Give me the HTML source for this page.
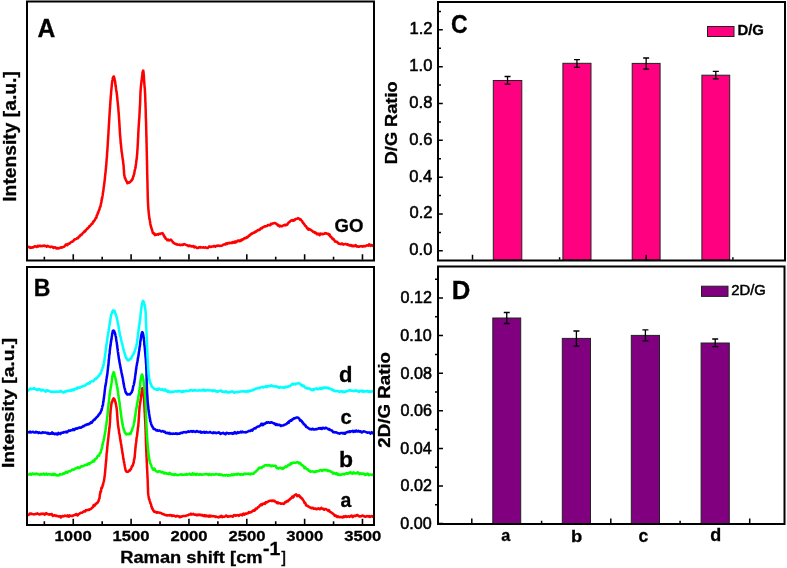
<!DOCTYPE html>
<html><head><meta charset="utf-8"><style>
html,body{margin:0;padding:0;background:#fff;}
svg{display:block;will-change:transform;}
text{font-family:"Liberation Sans", sans-serif;fill:#000;}
</style></head><body>
<svg width="787" height="568" viewBox="0 0 787 568">
<defs><clipPath id="cpA"><rect x="28" y="3" width="345" height="256"/></clipPath><clipPath id="cpB"><rect x="28" y="268" width="345" height="256"/></clipPath></defs>
<path d="M27.4,246.9 27.8,247.1 28.2,246.9 28.6,246.8 28.9,246.9 29.3,247.0 29.7,247.5 30.1,247.9 30.5,247.5 30.9,247.3 31.3,247.7 31.7,247.8 32.1,247.5 32.5,247.2 32.9,247.4 33.3,247.5 33.7,247.0 34.1,246.7 34.5,246.4 34.9,246.2 35.3,246.3 35.7,246.5 36.1,246.6 36.5,246.9 36.9,246.9 37.3,246.3 37.7,245.8 38.1,246.0 38.4,246.5 38.8,246.3 39.2,245.8 39.6,245.8 40.0,245.7 40.4,245.9 40.8,246.2 41.2,246.0 41.6,246.0 42.0,246.2 42.4,245.9 42.8,245.8 43.2,245.9 43.6,245.7 44.0,245.5 44.4,245.9 44.8,246.1 45.2,245.8 45.6,246.0 46.0,246.0 46.4,246.1 46.8,246.7 47.2,246.5 47.6,245.9 48.0,246.1 48.4,246.4 48.8,246.5 49.2,246.6 49.5,246.7 49.9,247.0 50.3,247.2 50.7,246.8 51.1,246.8 51.5,246.9 51.9,246.8 52.3,246.7 52.6,246.9 53.0,247.4 53.4,247.9 53.8,247.9 54.2,247.3 54.6,247.4 55.0,247.6 55.4,247.3 55.8,247.5 56.2,248.1 56.6,248.6 57.0,248.5 57.4,248.1 57.8,247.9 58.2,248.3 58.6,248.5 59.0,248.1 59.4,247.9 59.7,248.0 60.1,247.9 60.5,247.5 60.9,247.3 61.3,247.3 61.7,247.5 62.0,247.7 62.4,247.5 62.8,247.2 63.2,247.0 63.5,246.8 63.9,246.8 64.2,246.6 64.6,246.1 64.9,245.7 65.3,245.4 65.6,244.7 66.0,244.4 66.3,244.6 66.7,244.6 67.0,245.0 67.4,245.2 67.7,244.3 68.1,243.8 68.4,244.0 68.8,243.9 69.1,243.5 69.5,243.4 69.8,243.4 70.1,243.0 70.5,242.5 70.8,242.3 71.2,242.1 71.5,241.8 71.9,241.7 72.2,241.6 72.5,241.7 72.9,241.5 73.2,241.0 73.6,240.7 73.9,240.2 74.2,239.6 74.6,239.6 74.9,239.5 75.2,239.2 75.5,239.1 75.9,239.0 76.2,238.9 76.5,238.8 76.8,238.7 77.1,238.2 77.5,237.8 77.8,238.2 78.1,238.2 78.4,237.5 78.7,236.9 79.0,236.5 79.3,236.4 79.6,236.4 79.9,236.0 80.2,235.5 80.5,235.1 80.8,234.7 81.1,234.6 81.4,234.9 81.7,234.7 82.0,234.4 82.3,233.9 82.6,233.3 82.9,233.0 83.2,232.8 83.5,232.6 83.8,232.3 84.0,231.8 84.3,231.3 84.6,231.4 84.9,231.7 85.2,231.0 85.5,230.4 85.7,230.7 86.0,230.5 86.3,229.7 86.6,229.3 86.9,228.9 87.1,228.5 87.4,228.8 87.7,228.6 88.0,228.1 88.2,227.8 88.5,227.6 88.8,227.2 89.0,226.7 89.3,226.2 89.6,226.1 89.8,226.3 90.1,225.9 90.4,225.6 90.6,225.2 90.9,224.7 91.1,224.5 91.4,224.4 91.6,224.0 91.9,223.6 92.1,223.5 92.4,223.6 92.6,223.2 92.9,222.6 93.1,221.7 93.3,221.4 93.6,221.7 93.8,221.6 94.0,221.0 94.2,220.7 94.5,220.6 94.7,220.3 94.9,219.8 95.1,219.3 95.3,219.0 95.5,218.4 95.7,218.2 95.9,218.2 96.1,218.0 96.3,218.0 96.5,217.3 96.6,215.9 96.8,215.3 97.0,215.4 97.2,215.0 97.3,214.8 97.5,214.5 97.7,213.4 97.8,212.8 98.0,213.1 98.1,213.0 98.3,212.6 98.4,212.1 98.6,211.4 98.7,210.9 98.8,210.7 99.0,210.2 99.1,209.8 99.2,209.9 99.4,209.8 99.5,209.2 99.6,208.5 99.7,208.0 99.8,207.5 100.0,207.3 100.1,207.1 100.2,206.8 100.3,206.6 100.4,206.7 100.5,206.3 100.6,205.4 100.7,205.1 100.8,204.8 100.9,204.0 101.0,203.3 101.1,203.2 101.2,203.2 101.2,202.8 101.3,202.3 101.4,202.0 101.5,201.8 101.6,201.0 101.7,199.9 101.7,199.4 101.8,198.7 101.9,198.1 102.0,198.7 102.0,199.1 102.1,198.4 102.2,197.5 102.2,197.3 102.3,197.4 102.4,197.0 102.4,196.4 102.5,196.0 102.6,195.8 102.6,195.6 102.7,195.2 102.8,194.4 102.8,193.8 102.9,193.5 102.9,193.3 103.0,192.9 103.1,192.2 103.1,191.8 103.2,191.4 103.2,191.1 103.3,191.5 103.3,191.2 103.4,190.3 103.5,189.9 103.5,189.1 103.6,188.1 103.6,188.1 103.7,188.1 103.7,187.5 103.8,186.9 103.8,186.6 103.9,186.6 103.9,186.5 104.0,186.0 104.0,185.6 104.1,185.3 104.1,184.5 104.2,183.6 104.2,183.3 104.3,183.7 104.3,183.7 104.4,183.1 104.4,182.5 104.5,181.9 104.5,181.4 104.6,180.9 104.6,180.5 104.7,180.4 104.7,180.4 104.8,179.8 104.8,178.9 104.9,178.3 104.9,178.1 104.9,178.3 105.0,177.8 105.0,177.0 105.1,176.3 105.1,175.8 105.2,175.7 105.2,175.6 105.2,175.0 105.3,174.4 105.3,174.1 105.4,173.5 105.4,172.9 105.5,172.5 105.5,172.4 105.5,172.2 105.6,171.8 105.6,171.7 105.7,171.6 105.7,170.7 105.7,170.0 105.8,169.8 105.8,169.3 105.8,168.8 105.9,168.9 105.9,168.9 106.0,168.0 106.0,167.2 106.0,166.7 106.1,166.4 106.1,165.7 106.1,165.5 106.2,165.5 106.2,165.1 106.2,165.1 106.3,165.0 106.3,164.3 106.3,164.0 106.4,163.7 106.4,162.8 106.4,161.8 106.5,161.3 106.5,161.5 106.5,161.7 106.6,161.1 106.6,160.0 106.6,159.3 106.7,159.2 106.7,159.0 106.7,158.7 106.8,158.3 106.8,157.9 106.8,157.4 106.9,157.0 106.9,156.7 106.9,156.4 106.9,156.3 107.0,156.3 107.0,155.6 107.0,154.5 107.1,153.8 107.1,153.4 107.1,152.7 107.2,152.4 107.2,152.8 107.2,152.6 107.2,151.7 107.3,150.8 107.3,150.6 107.3,150.5 107.3,150.7 107.4,150.8 107.4,149.8 107.4,148.7 107.5,148.2 107.5,148.1 107.5,147.6 107.5,147.1 107.6,146.8 107.6,146.5 107.6,146.6 107.6,146.6 107.7,145.9 107.7,145.2 107.7,144.8 107.7,144.3 107.8,143.7 107.8,143.1 107.8,142.4 107.8,142.2 107.9,142.3 107.9,142.0 107.9,141.7 107.9,141.2 108.0,140.2 108.0,139.8 108.0,139.9 108.0,139.6 108.1,139.2 108.1,139.0 108.1,138.3 108.1,137.4 108.2,137.1 108.2,137.3 108.2,136.7 108.2,136.0 108.3,136.1 108.3,136.1 108.3,135.6 108.3,134.8 108.4,134.0 108.4,133.9 108.4,134.1 108.4,133.7 108.5,133.1 108.5,132.4 108.5,131.6 108.5,130.9 108.5,130.9 108.6,130.8 108.6,130.3 108.6,130.1 108.6,129.6 108.7,128.8 108.7,128.3 108.7,128.1 108.7,127.8 108.8,127.2 108.8,126.7 108.8,126.3 108.8,125.7 108.9,125.3 108.9,125.5 108.9,125.2 108.9,124.4 109.0,124.0 109.0,123.6 109.0,123.3 109.0,123.2 109.0,123.0 109.1,122.6 109.1,122.0 109.1,121.5 109.1,121.0 109.2,120.6 109.2,120.4 109.2,120.1 109.2,119.7 109.3,119.1 109.3,118.4 109.3,118.1 109.3,118.1 109.4,117.7 109.4,117.0 109.4,116.3 109.4,115.9 109.5,115.7 109.5,115.0 109.5,114.4 109.5,114.6 109.6,114.5 109.6,113.5 109.6,112.8 109.6,112.6 109.7,112.3 109.7,112.2 109.7,111.6 109.7,111.3 109.8,111.1 109.8,110.7 109.8,110.2 109.8,109.5 109.9,108.7 109.9,108.7 109.9,109.0 110.0,108.6 110.0,108.0 110.0,107.6 110.0,107.2 110.1,107.1 110.1,106.8 110.1,105.7 110.1,104.7 110.2,104.4 110.2,104.3 110.2,104.5 110.3,104.2 110.3,103.2 110.3,102.5 110.3,102.7 110.4,102.3 110.4,101.4 110.4,101.1 110.5,101.1 110.5,100.8 110.5,100.2 110.5,99.5 110.6,98.9 110.6,98.9 110.6,99.2 110.7,98.8 110.7,97.9 110.7,96.9 110.8,96.4 110.8,96.4 110.8,96.3 110.8,96.0 110.9,95.4 110.9,94.8 110.9,94.6 111.0,94.6 111.0,94.7 111.0,94.4 111.1,93.3 111.1,92.5 111.1,92.2 111.2,91.7 111.2,91.3 111.2,90.9 111.3,90.6 111.3,90.4 111.3,90.1 111.4,89.7 111.4,89.1 111.5,88.4 111.5,88.0 111.5,87.7 111.6,87.5 111.6,87.2 111.7,86.7 111.7,86.0 111.7,85.6 111.8,85.1 111.8,84.8 111.9,84.3 111.9,83.7 112.0,83.8 112.0,83.7 112.1,83.2 112.1,82.6 112.2,82.1 112.2,81.6 112.3,81.3 112.3,81.1 112.4,80.6 112.5,80.1 112.5,80.0 112.6,79.8 112.7,79.2 112.7,78.8 112.8,78.4 112.9,77.7 113.0,77.7 113.1,77.6 113.2,77.2 113.4,76.7 113.8,76.4 114.0,76.9 114.1,77.6 114.2,78.0 114.3,78.0 114.4,78.1 114.5,79.0 114.6,79.9 114.7,80.2 114.7,80.1 114.8,80.2 114.9,80.9 114.9,81.0 115.0,80.9 115.1,81.5 115.1,81.8 115.2,82.1 115.3,83.0 115.3,83.9 115.4,84.2 115.4,84.7 115.5,85.7 115.6,86.0 115.6,85.8 115.7,85.7 115.7,85.8 115.8,86.4 115.9,87.3 115.9,87.8 116.0,88.2 116.0,88.6 116.1,88.7 116.1,89.1 116.2,89.9 116.3,90.4 116.3,90.9 116.4,91.0 116.4,91.2 116.5,91.5 116.5,91.4 116.6,91.7 116.6,92.6 116.7,93.3 116.7,93.3 116.8,93.4 116.8,93.8 116.9,94.3 116.9,94.4 117.0,94.6 117.0,95.6 117.1,96.6 117.1,96.9 117.2,97.0 117.2,97.5 117.3,97.7 117.3,97.5 117.3,98.3 117.4,99.4 117.4,100.1 117.5,100.7 117.5,101.0 117.6,101.0 117.6,101.4 117.6,101.7 117.7,101.8 117.7,102.3 117.8,103.3 117.8,103.8 117.8,103.7 117.9,103.9 117.9,104.5 118.0,105.1 118.0,105.5 118.0,105.8 118.1,105.8 118.1,106.0 118.1,106.7 118.2,107.4 118.2,107.7 118.2,107.4 118.3,107.8 118.3,108.5 118.3,108.6 118.4,109.0 118.4,110.0 118.4,110.7 118.5,110.8 118.5,111.1 118.5,111.7 118.6,112.1 118.6,112.4 118.6,112.4 118.7,112.6 118.7,113.2 118.7,113.7 118.8,114.4 118.8,114.7 118.8,114.8 118.8,115.2 118.9,115.9 118.9,116.4 118.9,116.5 119.0,117.0 119.0,118.1 119.0,119.1 119.0,119.2 119.1,119.0 119.1,119.3 119.1,119.9 119.1,119.9 119.2,119.9 119.2,120.6 119.2,121.0 119.2,120.9 119.3,120.9 119.3,121.6 119.3,122.5 119.3,122.8 119.4,123.3 119.4,124.0 119.4,124.4 119.4,124.7 119.5,125.0 119.5,125.1 119.5,125.4 119.5,126.0 119.6,126.8 119.6,127.1 119.6,127.1 119.6,127.5 119.7,128.2 119.7,128.5 119.7,128.4 119.7,128.7 119.8,129.9 119.8,131.1 119.8,131.3 119.8,131.2 119.9,131.9 119.9,132.5 119.9,132.4 119.9,132.6 120.0,133.4 120.0,133.9 120.0,134.0 120.0,134.4 120.1,135.4 120.1,135.9 120.1,136.0 120.2,135.8 120.2,135.7 120.2,136.4 120.3,137.1 120.3,137.6 120.3,138.0 120.3,137.9 120.4,138.0 120.4,138.7 120.4,139.1 120.5,139.4 120.5,139.9 120.5,140.0 120.6,140.4 120.6,141.4 120.6,142.2 120.7,142.9 120.7,143.4 120.7,143.0 120.8,142.6 120.8,143.0 120.9,143.5 120.9,144.2 120.9,144.6 121.0,144.8 121.0,145.3 121.1,145.8 121.1,146.4 121.2,146.9 121.2,147.2 121.2,147.6 121.3,147.8 121.3,148.0 121.4,148.3 121.4,149.3 121.5,150.6 121.5,151.3 121.6,151.4 121.6,151.2 121.7,151.4 121.7,152.1 121.8,152.3 121.8,152.4 121.9,152.8 121.9,153.2 122.0,153.5 122.0,153.8 122.1,154.1 122.2,154.9 122.2,155.9 122.3,156.0 122.3,156.1 122.4,156.7 122.4,157.0 122.5,157.0 122.5,157.5 122.6,158.4 122.7,158.7 122.7,159.2 122.8,159.6 122.8,159.7 122.9,159.9 122.9,160.5 123.0,160.9 123.0,160.7 123.1,161.0 123.1,161.8 123.2,162.6 123.2,163.3 123.3,163.5 123.3,163.4 123.4,163.9 123.4,164.3 123.4,164.6 123.5,165.1 123.5,165.0 123.6,165.1 123.6,165.7 123.6,166.1 123.7,166.8 123.7,167.6 123.7,168.4 123.8,168.9 123.8,168.7 123.8,168.5 123.8,168.9 123.9,169.4 123.9,169.9 123.9,170.6 123.9,170.7 124.0,170.9 124.0,171.9 124.0,172.5 124.1,172.9 124.1,173.4 124.1,173.8 124.2,174.3 124.2,174.8 124.3,175.2 124.3,175.4 124.4,175.5 124.5,175.5 124.5,176.0 124.6,176.6 124.7,176.9 124.8,177.4 124.9,178.2 125.0,178.4 125.2,178.0 125.3,178.2 125.5,179.0 125.6,179.6 125.8,179.9 126.0,180.3 126.2,180.7 126.4,181.1 126.7,181.3 126.9,181.8 127.2,182.8 127.5,183.2 127.8,182.6 128.1,182.3 128.5,182.6 128.9,182.7 129.3,182.4 129.7,182.2 130.1,182.2 130.4,181.7 130.7,181.4 131.0,181.1 131.3,180.4 131.6,180.2 131.8,180.4 132.0,180.4 132.1,179.8 132.3,179.0 132.4,179.0 132.6,179.2 132.7,178.9 132.8,178.1 132.9,177.6 133.0,177.4 133.1,176.8 133.3,176.0 133.4,176.1 133.5,176.3 133.6,176.0 133.7,175.4 133.8,174.9 133.9,174.5 134.0,173.9 134.1,173.8 134.2,174.1 134.3,173.4 134.4,172.3 134.5,171.9 134.5,171.9 134.6,171.6 134.7,170.6 134.8,169.8 134.9,169.7 135.0,169.6 135.0,169.5 135.1,169.4 135.2,168.9 135.3,168.2 135.3,167.6 135.4,167.7 135.5,167.9 135.6,167.1 135.6,166.4 135.7,166.1 135.8,165.8 135.8,164.9 135.9,164.4 135.9,164.4 136.0,164.0 136.1,163.4 136.1,162.9 136.2,162.5 136.2,162.1 136.3,161.6 136.3,161.0 136.4,160.9 136.4,160.7 136.5,160.0 136.5,159.7 136.6,159.4 136.6,158.8 136.7,158.3 136.7,158.1 136.7,158.4 136.8,158.7 136.8,158.0 136.9,157.0 136.9,156.4 136.9,156.0 137.0,155.7 137.0,155.3 137.1,154.6 137.1,154.3 137.1,154.2 137.2,153.9 137.2,153.2 137.2,152.5 137.3,152.3 137.3,152.1 137.3,151.6 137.3,151.1 137.4,150.2 137.4,149.6 137.4,149.9 137.5,149.8 137.5,149.2 137.5,148.8 137.5,148.5 137.6,147.7 137.6,147.1 137.6,147.0 137.6,146.8 137.7,146.2 137.7,145.9 137.7,145.2 137.7,144.8 137.7,144.9 137.8,144.2 137.8,143.3 137.8,143.3 137.8,143.5 137.8,143.1 137.9,142.4 137.9,142.0 137.9,141.6 137.9,141.0 137.9,140.6 138.0,140.2 138.0,139.6 138.0,139.2 138.0,139.0 138.0,138.6 138.1,138.0 138.1,137.8 138.1,137.8 138.1,137.4 138.1,137.2 138.2,136.9 138.2,136.6 138.2,136.1 138.2,135.3 138.2,134.7 138.3,134.6 138.3,134.7 138.3,134.0 138.3,132.5 138.3,132.1 138.4,132.4 138.4,132.3 138.4,131.8 138.4,131.2 138.5,130.9 138.5,130.5 138.5,130.1 138.5,129.4 138.5,128.6 138.6,128.3 138.6,128.2 138.6,128.0 138.6,127.4 138.7,126.8 138.7,126.5 138.7,125.9 138.7,125.2 138.8,124.8 138.8,124.9 138.8,125.0 138.8,124.7 138.9,124.2 138.9,123.8 138.9,123.2 138.9,122.7 139.0,122.6 139.0,122.3 139.0,121.5 139.1,120.9 139.1,120.6 139.1,120.1 139.1,119.8 139.2,119.6 139.2,119.2 139.2,118.6 139.2,118.1 139.3,117.9 139.3,117.6 139.3,117.3 139.3,117.3 139.4,117.0 139.4,116.7 139.4,116.0 139.4,115.0 139.5,114.5 139.5,114.4 139.5,114.0 139.5,113.5 139.6,112.7 139.6,112.0 139.6,111.6 139.6,111.2 139.7,111.1 139.7,110.8 139.7,110.3 139.7,110.2 139.7,109.7 139.8,108.8 139.8,108.1 139.8,107.7 139.8,107.3 139.9,107.5 139.9,107.7 139.9,107.1 139.9,106.5 139.9,106.0 140.0,105.7 140.0,105.4 140.0,105.1 140.0,105.2 140.0,105.0 140.1,104.3 140.1,103.4 140.1,102.9 140.1,102.7 140.1,102.5 140.1,102.1 140.2,101.9 140.2,101.3 140.2,100.3 140.2,100.0 140.2,100.1 140.2,99.4 140.2,98.7 140.3,98.3 140.3,97.8 140.3,98.1 140.3,98.5 140.3,97.7 140.3,96.4 140.3,95.8 140.4,95.8 140.4,95.6 140.4,94.9 140.4,94.5 140.4,94.6 140.4,94.3 140.4,93.3 140.5,92.4 140.5,91.9 140.5,91.5 140.5,91.2 140.5,91.3 140.6,91.1 140.6,91.1 140.6,91.2 140.6,90.4 140.7,89.5 140.7,89.4 140.7,89.1 140.8,88.1 140.8,87.5 140.9,87.1 140.9,86.8 140.9,86.6 141.0,85.6 141.0,85.1 141.1,85.2 141.1,85.0 141.1,84.8 141.2,84.4 141.2,84.1 141.3,83.5 141.3,82.6 141.4,82.3 141.4,82.1 141.5,81.9 141.5,81.5 141.5,80.8 141.6,80.5 141.6,80.6 141.7,80.1 141.7,79.7 141.8,80.1 141.8,79.6 141.8,78.3 141.9,78.2 141.9,78.6 142.0,77.9 142.0,77.0 142.1,76.3 142.1,75.7 142.2,75.3 142.2,75.1 142.2,74.9 142.3,74.3 142.4,73.6 142.4,73.1 142.5,72.9 142.5,72.5 142.6,72.4 142.6,72.4 142.7,72.0 142.8,71.5 142.9,71.1 143.1,70.6 143.3,70.7 143.4,71.2 143.4,71.6 143.5,72.0 143.5,72.7 143.6,72.9 143.6,72.9 143.6,73.2 143.7,73.7 143.7,74.2 143.7,74.8 143.8,75.3 143.8,75.2 143.8,75.0 143.9,75.5 143.9,76.0 143.9,77.0 143.9,78.0 144.0,78.2 144.0,77.9 144.0,78.6 144.0,79.7 144.1,80.0 144.1,80.2 144.1,81.1 144.1,82.0 144.2,82.0 144.2,81.9 144.2,82.2 144.3,82.5 144.3,82.5 144.3,82.7 144.3,83.3 144.4,83.7 144.4,84.2 144.4,85.2 144.5,85.8 144.5,85.7 144.5,85.8 144.6,86.4 144.6,87.1 144.6,87.5 144.7,87.4 144.7,87.3 144.7,87.5 144.8,88.3 144.8,89.2 144.8,89.5 144.9,89.6 144.9,90.1 144.9,90.8 144.9,91.2 145.0,91.4 145.0,91.5 145.0,91.5 145.0,92.3 145.0,93.1 145.1,93.0 145.1,93.5 145.1,94.3 145.1,94.5 145.1,94.8 145.2,95.4 145.2,95.9 145.2,96.0 145.2,96.1 145.2,96.7 145.2,97.2 145.3,97.7 145.3,98.4 145.3,99.1 145.3,99.5 145.3,99.7 145.3,100.4 145.3,101.1 145.4,101.5 145.4,101.8 145.4,101.7 145.4,102.0 145.4,102.4 145.4,102.5 145.4,102.9 145.5,103.3 145.5,103.5 145.5,103.6 145.5,104.2 145.5,105.1 145.5,106.0 145.5,106.4 145.5,106.4 145.6,106.5 145.6,106.9 145.6,107.5 145.6,108.0 145.6,108.8 145.6,109.4 145.6,109.2 145.7,108.9 145.7,109.2 145.7,109.5 145.7,110.3 145.7,111.4 145.7,111.6 145.7,111.6 145.7,112.5 145.8,113.2 145.8,113.1 145.8,113.2 145.8,113.8 145.8,114.5 145.8,115.2 145.8,115.8 145.8,116.3 145.8,116.7 145.9,117.1 145.9,116.9 145.9,116.7 145.9,117.3 145.9,118.0 145.9,118.4 145.9,118.9 145.9,119.0 146.0,119.4 146.0,120.4 146.0,120.8 146.0,121.1 146.0,121.6 146.0,122.1 146.0,121.8 146.0,121.5 146.0,122.0 146.1,122.7 146.1,123.2 146.1,124.0 146.1,124.7 146.1,124.6 146.1,125.0 146.1,125.9 146.1,125.9 146.1,125.9 146.2,126.7 146.2,127.2 146.2,127.5 146.2,128.0 146.2,128.2 146.2,128.4 146.2,129.2 146.2,129.7 146.2,129.9 146.2,130.3 146.3,131.2 146.3,131.9 146.3,132.0 146.3,132.3 146.3,132.5 146.3,132.8 146.3,133.5 146.3,134.1 146.3,134.5 146.3,134.5 146.4,134.5 146.4,134.9 146.4,135.7 146.4,136.4 146.4,136.9 146.4,137.3 146.4,137.8 146.4,138.2 146.4,138.0 146.4,137.7 146.5,137.9 146.5,138.7 146.5,139.7 146.5,140.1 146.5,140.7 146.5,141.4 146.5,141.9 146.5,142.1 146.5,142.0 146.5,142.3 146.5,142.8 146.6,143.1 146.6,143.4 146.6,144.1 146.6,144.6 146.6,144.5 146.6,144.8 146.6,145.3 146.6,146.0 146.6,146.6 146.6,147.0 146.6,147.1 146.7,147.3 146.7,147.9 146.7,148.4 146.7,148.9 146.7,148.9 146.7,148.6 146.7,149.3 146.7,150.5 146.7,151.3 146.7,151.5 146.7,151.4 146.8,151.7 146.8,152.9 146.8,153.5 146.8,153.4 146.8,153.2 146.8,153.5 146.8,154.8 146.8,155.9 146.8,156.0 146.8,156.1 146.8,156.1 146.9,156.3 146.9,156.8 146.9,156.9 146.9,157.3 146.9,158.1 146.9,158.7 146.9,159.1 146.9,159.2 146.9,159.1 146.9,159.4 146.9,160.0 146.9,160.3 147.0,160.4 147.0,160.8 147.0,161.3 147.0,161.4 147.0,161.7 147.0,162.4 147.0,163.4 147.0,164.4 147.0,164.8 147.0,164.5 147.0,164.8 147.1,165.7 147.1,165.9 147.1,166.5 147.1,167.2 147.1,167.1 147.1,166.9 147.1,167.4 147.1,168.3 147.1,168.7 147.1,168.6 147.1,169.1 147.1,170.0 147.2,170.5 147.2,170.7 147.2,171.3 147.2,171.5 147.2,171.4 147.2,172.0 147.2,172.7 147.2,172.7 147.2,172.7 147.2,173.6 147.2,174.8 147.3,175.0 147.3,175.1 147.3,175.8 147.3,176.1 147.3,176.6 147.3,177.4 147.3,177.7 147.3,177.5 147.3,177.7 147.3,178.2 147.3,178.2 147.3,178.6 147.4,180.1 147.4,180.9 147.4,180.9 147.4,181.0 147.4,181.7 147.4,182.5 147.4,182.7 147.4,182.4 147.4,182.3 147.4,182.5 147.4,182.5 147.5,183.0 147.5,183.9 147.5,184.4 147.5,184.9 147.5,185.8 147.5,186.7 147.5,187.0 147.5,187.1 147.5,187.4 147.5,187.4 147.5,187.8 147.6,188.4 147.6,188.4 147.6,188.6 147.6,189.1 147.6,190.0 147.6,190.7 147.6,190.8 147.6,190.9 147.6,191.1 147.6,191.2 147.7,192.0 147.7,193.4 147.7,194.2 147.7,193.9 147.7,193.9 147.7,194.4 147.7,194.8 147.7,195.4 147.7,195.8 147.7,196.2 147.8,196.5 147.8,196.6 147.8,196.6 147.8,196.8 147.8,197.3 147.8,197.8 147.8,198.3 147.8,198.8 147.9,199.5 147.9,199.8 147.9,199.8 147.9,200.1 147.9,200.8 147.9,201.9 148.0,202.7 148.0,202.8 148.0,203.0 148.0,203.3 148.0,203.5 148.0,204.0 148.1,203.9 148.1,204.1 148.1,205.8 148.1,206.3 148.2,205.9 148.2,206.2 148.2,206.7 148.2,206.9 148.3,206.9 148.3,207.5 148.3,208.4 148.4,209.0 148.4,209.5 148.4,210.1 148.5,210.6 148.5,210.5 148.5,210.3 148.6,210.3 148.6,211.0 148.6,212.0 148.7,212.3 148.7,212.7 148.8,213.0 148.8,213.1 148.8,213.5 148.9,214.0 148.9,214.5 149.0,215.3 149.0,215.7 149.1,215.6 149.1,215.9 149.2,216.6 149.3,217.2 149.3,218.2 149.4,219.0 149.4,218.9 149.5,218.7 149.6,218.8 149.6,219.0 149.7,219.2 149.8,219.7 149.8,220.2 149.9,220.9 150.0,221.5 150.0,221.7 150.1,221.8 150.2,222.4 150.3,223.4 150.4,224.1 150.4,224.5 150.5,224.9 150.6,225.1 150.7,225.2 150.8,225.9 150.9,226.5 151.0,226.3 151.1,226.9 151.2,227.7 151.3,227.8 151.4,228.2 151.5,228.5 151.6,228.5 151.7,228.7 151.8,228.8 151.9,229.1 152.0,229.6 152.1,230.2 152.2,230.8 152.4,231.0 152.5,231.4 152.7,232.5 152.8,233.0 153.0,232.9 153.2,232.9 153.5,233.2 153.7,233.7 154.0,233.7 154.4,233.6 154.7,234.6 155.1,235.1 155.5,234.4 155.9,234.5 156.3,234.7 156.7,234.7 157.1,234.6 157.5,234.2 157.9,234.3 158.3,234.6 158.7,234.1 159.0,233.7 159.4,233.7 159.8,233.8 160.2,233.9 160.6,233.6 161.0,233.4 161.4,233.4 161.8,233.6 162.1,233.4 162.5,233.1 162.8,233.6 163.1,234.1 163.4,234.7 163.6,235.4 163.9,235.1 164.1,235.4 164.3,236.4 164.5,237.0 164.7,237.3 165.0,237.3 165.2,237.2 165.4,237.8 165.6,238.6 165.9,238.9 166.1,238.9 166.4,239.0 166.7,239.2 167.0,239.6 167.3,240.3 167.7,240.1 168.1,239.6 168.5,239.9 168.9,240.4 169.3,240.5 169.7,240.2 170.1,240.0 170.5,239.9 170.9,239.6 171.2,239.9 171.6,240.6 172.0,240.8 172.3,241.3 172.6,241.9 172.9,242.0 173.2,242.3 173.4,243.0 173.7,243.0 173.9,242.9 174.2,243.3 174.5,243.5 174.7,243.5 175.0,243.8 175.4,243.8 175.7,243.7 176.1,244.1 176.4,244.5 176.8,244.3 177.2,244.2 177.6,244.5 178.0,244.9 178.4,244.8 178.8,244.7 179.2,244.8 179.6,244.6 180.0,244.9 180.4,245.2 180.8,244.8 181.2,244.8 181.6,245.1 182.0,244.9 182.4,244.7 182.8,245.0 183.2,244.9 183.6,244.2 184.0,244.1 184.4,244.3 184.8,244.3 185.2,244.4 185.6,244.7 186.0,244.9 186.4,244.9 186.8,245.2 187.2,245.3 187.6,245.2 188.0,245.7 188.3,246.2 188.7,245.9 189.1,245.5 189.5,245.5 189.9,245.6 190.3,246.1 190.7,246.3 191.1,246.0 191.5,246.2 191.9,246.6 192.3,246.5 192.6,246.3 193.0,246.1 193.4,246.1 193.8,246.8 194.2,247.4 194.6,247.0 195.0,246.6 195.4,246.7 195.8,247.1 196.2,247.4 196.6,247.7 197.0,248.0 197.4,248.0 197.8,247.9 198.2,247.9 198.6,247.5 199.0,247.1 199.4,247.3 199.8,247.5 200.2,247.2 200.6,247.0 201.0,247.5 201.4,247.6 201.8,247.4 202.2,247.5 202.6,247.6 203.0,247.6 203.4,247.2 203.8,247.2 204.2,247.7 204.6,247.7 205.0,247.5 205.4,247.3 205.8,247.3 206.2,247.7 206.6,247.8 207.0,247.7 207.4,248.0 207.8,248.0 208.1,247.6 208.5,247.4 208.9,246.8 209.3,246.3 209.7,246.5 210.1,246.9 210.5,247.0 210.9,247.0 211.3,246.7 211.7,246.5 212.1,246.6 212.5,246.5 212.9,246.4 213.3,246.4 213.7,246.1 214.1,245.9 214.5,246.1 214.9,246.5 215.3,246.8 215.7,246.5 216.1,246.0 216.5,245.7 216.9,245.8 217.2,245.8 217.6,245.6 218.0,245.9 218.4,245.8 218.8,245.5 219.2,245.8 219.6,246.1 220.0,246.0 220.4,245.9 220.8,245.8 221.1,245.9 221.5,245.7 221.9,245.5 222.3,245.5 222.7,245.2 223.1,244.7 223.5,244.4 223.9,244.5 224.3,244.5 224.7,244.2 225.0,244.4 225.4,244.5 225.8,243.9 226.2,243.3 226.6,243.6 227.0,243.9 227.4,243.6 227.8,243.2 228.1,242.9 228.5,243.2 228.9,243.4 229.3,243.1 229.7,242.8 230.1,243.0 230.5,243.1 230.9,243.0 231.3,242.5 231.6,242.7 232.0,243.1 232.4,242.5 232.8,242.0 233.2,242.0 233.6,242.1 234.0,242.7 234.4,242.7 234.8,241.7 235.1,241.4 235.5,242.1 235.9,242.4 236.3,242.2 236.7,241.8 237.1,241.2 237.5,240.8 237.9,240.4 238.2,240.5 238.6,240.9 239.0,241.1 239.4,241.3 239.8,240.8 240.1,240.3 240.5,240.7 240.9,240.9 241.3,240.2 241.6,239.6 242.0,239.8 242.4,239.9 242.7,239.3 243.1,239.0 243.5,239.3 243.8,238.9 244.2,238.3 244.5,238.1 244.9,238.1 245.2,238.1 245.6,238.2 246.0,238.3 246.3,237.7 246.7,237.0 247.0,237.2 247.4,237.4 247.7,237.2 248.0,236.9 248.4,236.2 248.7,235.9 249.1,235.9 249.4,235.2 249.7,234.8 250.1,235.2 250.4,235.0 250.8,234.4 251.1,233.9 251.4,233.6 251.8,233.6 252.1,233.8 252.4,233.5 252.8,233.0 253.1,233.0 253.4,232.7 253.8,232.5 254.1,232.7 254.4,232.3 254.7,232.0 255.1,232.2 255.4,231.8 255.7,231.5 256.1,231.7 256.4,231.5 256.7,231.1 257.1,230.8 257.4,230.5 257.7,230.3 258.1,229.9 258.4,229.9 258.8,230.2 259.1,229.8 259.5,229.6 259.8,229.8 260.2,229.1 260.5,228.5 260.9,228.3 261.2,228.2 261.6,228.4 261.9,228.4 262.3,227.6 262.7,227.3 263.0,227.4 263.4,227.2 263.8,226.9 264.2,226.7 264.5,226.2 264.9,226.2 265.3,226.4 265.7,226.4 266.1,226.2 266.4,226.0 266.8,226.1 267.2,225.9 267.6,225.4 267.9,225.0 268.3,225.0 268.7,225.1 269.0,224.9 269.4,225.0 269.7,225.3 270.1,225.3 270.4,225.0 270.7,224.1 271.1,223.7 271.4,223.9 271.8,224.0 272.1,223.7 272.5,223.5 272.9,223.6 273.2,223.5 273.6,223.3 274.0,223.1 274.4,223.0 274.8,223.0 275.2,223.1 275.6,223.3 275.9,223.5 276.3,223.9 276.6,224.1 276.9,224.2 277.1,224.3 277.4,224.8 277.7,225.4 278.0,225.1 278.3,224.8 278.6,225.1 279.0,225.8 279.4,226.5 279.8,226.4 280.2,226.1 280.6,225.8 281.0,225.9 281.4,226.4 281.8,226.3 282.2,225.9 282.6,225.8 283.0,225.7 283.4,225.3 283.8,225.3 284.2,225.0 284.6,224.7 284.9,225.2 285.3,225.4 285.7,224.8 286.1,224.6 286.4,225.0 286.8,225.0 287.1,224.8 287.4,224.5 287.7,223.9 287.9,223.5 288.2,223.1 288.5,222.7 288.7,222.5 289.0,222.4 289.3,222.3 289.6,221.9 290.0,221.4 290.3,221.2 290.6,221.0 291.0,220.6 291.4,220.4 291.7,220.4 292.1,220.2 292.5,220.1 292.9,220.3 293.2,220.8 293.6,220.7 294.0,220.0 294.3,219.9 294.7,220.1 295.0,219.6 295.4,219.0 295.7,218.9 296.1,219.0 296.5,219.0 296.9,218.9 297.2,218.7 297.6,218.3 298.0,218.1 298.4,218.3 298.8,218.7 299.2,218.7 299.5,218.8 299.8,219.5 300.1,219.7 300.4,219.3 300.7,219.3 300.9,219.7 301.2,220.2 301.5,220.7 301.7,220.8 302.0,221.0 302.2,221.3 302.4,221.8 302.7,222.6 302.9,222.9 303.2,222.6 303.4,222.9 303.6,223.5 303.9,223.9 304.1,224.0 304.4,224.2 304.6,224.7 304.8,225.3 305.1,225.7 305.3,225.9 305.6,226.2 305.8,226.2 306.1,226.3 306.4,227.1 306.6,227.5 306.9,227.8 307.2,228.4 307.5,228.6 307.8,228.2 308.1,228.5 308.4,229.6 308.7,229.8 309.1,229.2 309.4,229.0 309.8,229.4 310.1,229.5 310.4,229.7 310.8,230.0 311.2,230.0 311.5,230.3 311.9,230.9 312.2,231.0 312.6,231.3 313.0,231.8 313.3,232.0 313.7,231.8 314.0,231.8 314.4,232.2 314.8,232.9 315.1,232.8 315.5,232.4 315.8,232.8 316.2,233.4 316.6,233.8 316.9,234.3 317.3,234.2 317.7,233.7 318.0,233.5 318.4,233.6 318.8,234.0 319.2,234.7 319.6,235.2 320.0,234.4 320.4,233.6 320.8,233.8 321.2,234.1 321.6,233.8 322.0,233.8 322.4,234.1 322.8,234.3 323.2,234.0 323.6,233.9 323.9,234.0 324.3,233.8 324.7,233.4 325.1,233.1 325.5,233.3 325.9,233.5 326.3,233.2 326.7,233.5 327.1,233.8 327.5,233.8 327.9,233.7 328.3,233.9 328.6,234.6 328.9,235.0 329.2,234.6 329.5,234.3 329.8,234.8 330.1,236.0 330.3,236.6 330.6,236.7 330.8,236.8 331.0,236.8 331.3,237.0 331.5,237.5 331.8,237.6 332.0,237.8 332.3,238.6 332.6,239.1 332.8,238.6 333.1,238.7 333.4,239.3 333.7,239.3 334.0,239.4 334.3,240.3 334.6,240.7 334.9,241.1 335.2,241.7 335.5,241.6 335.9,241.4 336.2,241.5 336.5,241.5 336.9,241.8 337.2,242.3 337.6,242.3 338.0,242.7 338.3,243.5 338.7,243.7 339.1,243.6 339.5,243.6 339.8,243.9 340.2,244.1 340.6,244.1 341.0,244.2 341.4,243.8 341.8,243.4 342.2,243.5 342.6,243.8 342.9,244.5 343.3,244.7 343.7,244.3 344.1,244.2 344.5,244.2 344.9,244.0 345.3,244.1 345.7,244.1 346.1,244.1 346.5,244.5 346.9,244.7 347.3,244.4 347.7,244.2 348.1,244.6 348.5,245.1 348.9,245.1 349.3,245.5 349.7,245.5 350.1,245.0 350.5,245.0 350.9,245.7 351.3,245.9 351.7,245.3 352.1,245.4 352.4,245.9 352.8,246.2 353.2,246.2 353.6,245.9 354.0,245.6 354.4,245.8 354.8,246.2 355.2,245.6 355.6,245.1 356.0,245.6 356.4,246.3 356.8,246.6 357.2,246.3 357.6,246.2 358.0,246.6 358.4,246.8 358.8,246.6 359.2,246.7 359.6,246.6 360.0,246.3 360.4,246.3 360.8,246.2 361.2,246.2 361.6,246.3 362.0,246.2 362.4,246.6 362.8,246.7 363.2,246.2 363.6,245.9 364.0,246.0 364.4,246.3 364.8,246.4 365.2,246.3 365.6,246.2 366.0,245.8 366.4,245.5 366.8,245.3 367.2,245.6 367.5,245.6 367.9,245.5 368.3,245.7 368.7,245.2 369.1,244.3 369.5,244.4 369.9,244.7 370.3,245.5 370.7,245.9 371.1,245.3 371.5,245.0 371.9,245.1 372.3,245.4 372.6,245.9 373.0,246.0 373.3,246.0 373.6,246.4" fill="none" stroke="#ff0000" stroke-width="2.5" stroke-linejoin="round" clip-path="url(#cpA)"/>
<path d="M28.0,514.4 28.4,514.7 28.7,514.9 29.1,514.5 29.5,513.8 29.9,513.5 30.3,513.6 30.6,513.9 31.0,513.9 31.4,513.6 31.8,513.8 32.2,514.1 32.6,514.1 33.0,514.2 33.4,514.4 33.8,514.3 34.2,514.2 34.6,514.4 35.0,514.2 35.4,513.8 35.8,514.0 36.2,514.1 36.6,513.8 37.0,513.5 37.4,513.3 37.8,513.7 38.2,514.0 38.6,514.1 39.0,514.1 39.4,514.6 39.8,514.6 40.2,514.2 40.6,513.9 41.0,513.7 41.4,513.7 41.8,513.9 42.2,514.1 42.6,513.9 43.0,513.6 43.4,513.7 43.8,513.8 44.2,514.3 44.6,514.8 45.0,514.5 45.4,513.8 45.8,513.3 46.2,513.1 46.6,513.5 47.0,514.0 47.4,514.1 47.8,514.0 48.2,514.1 48.6,514.5 49.0,514.7 49.4,514.4 49.8,514.2 50.2,514.4 50.6,514.6 51.0,514.4 51.4,514.1 51.7,514.0 52.1,514.4 52.5,515.4 52.9,515.9 53.3,515.5 53.7,515.5 54.1,515.5 54.5,515.1 54.9,515.3 55.3,515.4 55.7,515.8 56.0,516.0 56.4,515.6 56.8,515.8 57.2,516.1 57.6,516.0 58.0,516.2 58.4,516.5 58.8,516.5 59.2,516.5 59.6,516.3 60.0,516.0 60.4,516.9 60.8,517.5 61.2,517.2 61.6,516.6 62.0,516.1 62.4,516.0 62.8,516.0 63.2,516.2 63.6,516.4 64.0,516.2 64.4,515.8 64.8,515.6 65.2,515.8 65.6,516.0 66.0,515.8 66.4,516.0 66.8,516.3 67.2,515.7 67.6,515.3 68.0,515.7 68.4,516.4 68.8,516.7 69.2,516.1 69.6,515.4 70.0,515.6 70.4,515.7 70.8,515.7 71.2,516.0 71.6,516.1 72.0,515.7 72.4,515.7 72.7,515.9 73.1,515.7 73.5,515.3 73.9,515.3 74.3,515.0 74.7,514.8 75.1,514.9 75.5,514.7 75.9,514.2 76.3,514.0 76.7,514.4 77.1,515.3 77.5,515.5 77.9,515.1 78.3,514.7 78.6,514.2 79.0,514.0 79.4,513.8 79.7,513.3 80.1,513.1 80.5,513.2 80.8,512.9 81.2,512.7 81.5,512.7 81.9,512.8 82.2,512.7 82.6,512.3 82.9,512.0 83.3,511.8 83.6,511.5 84.0,511.2 84.3,511.2 84.7,511.4 85.1,511.5 85.4,511.0 85.8,510.2 86.2,510.0 86.6,510.2 86.9,510.2 87.3,509.9 87.7,509.9 88.1,510.1 88.5,509.8 88.8,509.5 89.2,509.9 89.6,509.8 90.0,509.3 90.3,509.1 90.7,509.0 91.0,508.9 91.4,508.5 91.7,507.9 92.0,507.7 92.3,507.5 92.6,507.5 92.9,507.3 93.2,506.9 93.4,505.8 93.7,505.0 94.0,505.1 94.2,505.1 94.5,505.4 94.8,505.6 95.1,505.0 95.3,504.4 95.6,504.1 95.9,503.9 96.2,503.5 96.5,503.1 96.8,503.0 97.1,503.2 97.4,503.0 97.6,502.6 97.9,502.1 98.1,501.6 98.3,501.3 98.4,501.2 98.6,501.0 98.7,500.3 98.9,499.5 99.0,499.4 99.1,499.4 99.2,498.8 99.3,498.4 99.4,498.5 99.5,498.2 99.5,497.4 99.6,497.1 99.7,497.1 99.7,496.5 99.8,495.8 99.9,494.9 99.9,494.0 100.0,493.8 100.1,493.9 100.2,493.7 100.3,493.0 100.3,492.1 100.4,491.7 100.5,491.4 100.6,491.2 100.7,491.5 100.9,491.8 101.0,491.7 101.1,490.7 101.2,489.5 101.3,488.4 101.5,487.6 101.6,487.8 101.7,488.2 101.9,488.2 102.0,487.9 102.1,487.4 102.2,487.0 102.4,486.8 102.5,486.3 102.6,485.4 102.7,484.6 102.9,484.5 103.0,484.9 103.1,484.8 103.2,483.9 103.3,483.0 103.4,482.7 103.5,482.4 103.6,482.0 103.7,481.7 103.8,481.4 103.9,481.0 104.0,480.8 104.0,480.3 104.1,479.7 104.2,479.2 104.2,478.9 104.3,478.7 104.4,478.2 104.4,477.7 104.5,477.0 104.6,476.6 104.6,476.5 104.7,476.1 104.7,475.9 104.8,475.4 104.8,474.4 104.9,473.9 104.9,473.7 104.9,473.3 105.0,473.0 105.0,473.0 105.1,472.7 105.1,472.2 105.1,471.8 105.2,471.3 105.2,470.8 105.2,470.6 105.3,470.4 105.3,469.8 105.3,469.1 105.4,468.6 105.4,468.5 105.4,468.3 105.5,467.7 105.5,467.2 105.5,467.5 105.6,467.5 105.6,466.6 105.6,465.9 105.7,465.2 105.7,464.3 105.7,464.1 105.8,464.2 105.8,464.1 105.9,463.4 105.9,462.7 105.9,462.5 106.0,462.2 106.0,461.7 106.0,461.1 106.1,460.6 106.1,460.5 106.1,460.8 106.2,460.7 106.2,460.0 106.2,459.4 106.3,459.2 106.3,459.0 106.3,458.7 106.4,458.1 106.4,457.2 106.4,456.8 106.5,456.4 106.5,456.0 106.5,455.5 106.6,454.5 106.6,453.7 106.6,453.4 106.7,453.1 106.7,453.2 106.8,452.8 106.8,452.2 106.8,452.4 106.9,452.3 106.9,451.9 106.9,451.9 107.0,451.4 107.0,450.4 107.0,450.1 107.1,449.9 107.1,449.4 107.2,448.9 107.2,448.1 107.2,447.5 107.3,447.0 107.3,446.7 107.4,446.3 107.4,445.6 107.4,445.4 107.5,445.5 107.5,445.2 107.6,444.5 107.6,443.6 107.6,443.3 107.7,443.2 107.7,442.9 107.8,442.7 107.8,442.5 107.8,442.1 107.9,441.5 107.9,441.3 108.0,440.9 108.0,440.5 108.1,440.3 108.1,439.9 108.1,439.3 108.2,438.9 108.2,438.7 108.3,438.5 108.3,438.1 108.4,437.6 108.4,437.1 108.5,436.7 108.5,436.4 108.6,435.4 108.6,434.7 108.6,434.9 108.7,434.4 108.7,433.6 108.8,433.2 108.8,433.2 108.9,433.4 108.9,432.6 109.0,431.7 109.0,431.5 109.1,431.5 109.1,431.2 109.2,430.0 109.2,429.1 109.2,429.2 109.3,429.0 109.3,428.3 109.4,427.7 109.4,428.1 109.5,427.9 109.5,427.1 109.5,426.8 109.6,426.8 109.6,426.8 109.7,426.1 109.7,425.4 109.7,425.2 109.8,424.7 109.8,424.0 109.8,423.7 109.9,422.9 109.9,422.5 109.9,422.8 110.0,422.2 110.0,421.4 110.0,421.0 110.0,420.2 110.1,419.7 110.1,419.6 110.1,419.4 110.1,419.4 110.2,419.1 110.2,418.6 110.2,418.2 110.2,417.7 110.2,417.0 110.3,416.6 110.3,416.4 110.3,416.3 110.3,416.0 110.3,415.1 110.4,414.4 110.4,414.1 110.4,413.9 110.4,413.7 110.4,413.2 110.5,412.7 110.5,412.7 110.5,412.3 110.5,411.8 110.6,411.5 110.6,410.9 110.6,410.3 110.6,409.9 110.7,409.4 110.7,409.0 110.8,409.0 110.8,409.2 110.8,408.8 110.9,408.1 110.9,407.7 111.0,407.2 111.0,406.7 111.1,406.5 111.1,406.3 111.2,406.2 111.3,405.2 111.3,404.4 111.4,404.3 111.5,403.8 111.6,402.7 111.7,402.1 111.8,402.5 111.9,402.7 112.0,402.3 112.1,402.1 112.2,401.7 112.4,401.1 112.5,400.5 112.7,399.8 112.9,399.5 113.0,399.5 113.3,398.9 113.6,398.3 113.9,398.7 114.2,399.0 114.3,399.3 114.5,399.8 114.7,399.9 114.8,399.9 115.0,400.7 115.1,401.5 115.3,401.6 115.4,402.0 115.5,402.8 115.6,403.0 115.7,402.9 115.8,403.4 115.9,404.2 116.0,404.6 116.1,404.6 116.1,404.9 116.2,405.9 116.3,406.6 116.3,406.6 116.4,406.7 116.5,407.2 116.5,407.8 116.6,408.1 116.6,408.1 116.7,408.6 116.7,409.0 116.8,409.2 116.8,409.9 116.8,410.4 116.9,410.7 116.9,411.0 117.0,411.2 117.0,411.8 117.0,412.5 117.1,413.1 117.1,413.4 117.1,413.1 117.1,413.3 117.2,414.3 117.2,415.3 117.2,416.0 117.3,416.0 117.3,415.9 117.3,416.3 117.3,416.4 117.4,417.0 117.4,418.2 117.4,418.6 117.5,418.7 117.5,419.3 117.5,419.9 117.6,420.1 117.6,420.2 117.6,420.0 117.7,420.4 117.7,421.6 117.7,422.3 117.8,422.4 117.8,422.5 117.9,422.7 117.9,423.2 117.9,424.0 118.0,424.5 118.0,424.7 118.1,425.1 118.1,425.6 118.2,426.0 118.2,426.0 118.3,426.1 118.3,427.0 118.4,427.8 118.4,427.7 118.5,427.9 118.5,428.7 118.6,429.2 118.6,429.2 118.7,429.1 118.8,429.6 118.8,429.8 118.9,430.3 118.9,431.1 119.0,431.6 119.1,432.6 119.1,433.5 119.2,433.5 119.2,433.3 119.3,433.2 119.4,433.3 119.4,433.7 119.5,434.1 119.6,434.5 119.6,435.0 119.7,435.5 119.8,435.6 119.8,435.7 119.9,436.4 120.0,437.3 120.0,438.0 120.1,438.7 120.2,439.0 120.2,439.1 120.3,439.3 120.4,439.8 120.4,440.8 120.5,441.3 120.6,440.9 120.6,441.0 120.7,441.3 120.8,441.4 120.8,442.1 120.9,443.0 121.0,443.4 121.0,443.7 121.1,444.1 121.2,444.3 121.2,444.7 121.3,445.0 121.4,445.4 121.4,445.9 121.5,446.5 121.5,447.2 121.6,447.7 121.7,448.0 121.7,448.1 121.8,448.3 121.9,448.3 121.9,448.6 122.0,449.6 122.0,450.0 122.1,450.3 122.2,450.8 122.2,451.2 122.3,451.6 122.3,452.2 122.4,452.3 122.5,452.6 122.5,453.5 122.6,453.9 122.7,453.7 122.7,453.7 122.8,453.8 122.8,454.5 122.9,455.4 123.0,455.7 123.0,455.8 123.1,456.6 123.1,457.5 123.2,457.6 123.3,457.9 123.3,458.7 123.4,459.1 123.5,459.1 123.5,459.1 123.6,459.1 123.7,459.6 123.7,460.3 123.8,461.0 123.9,461.6 123.9,462.1 124.0,462.5 124.1,462.6 124.1,462.4 124.2,462.5 124.3,463.2 124.4,463.7 124.4,464.2 124.5,464.6 124.6,464.8 124.7,465.2 124.7,466.0 124.8,466.5 124.9,466.9 125.0,467.4 125.1,467.6 125.2,467.8 125.3,468.7 125.4,469.4 125.5,469.6 125.7,470.2 125.8,470.9 126.0,471.0 126.2,471.0 126.4,471.6 126.7,471.7 127.0,471.5 127.4,471.7 127.8,471.9 128.1,471.6 128.5,471.5 128.8,471.3 129.1,470.6 129.3,470.2 129.6,470.4 129.9,470.5 130.1,469.9 130.4,469.3 130.6,469.2 130.9,469.3 131.1,468.8 131.3,467.9 131.5,467.5 131.7,467.0 131.9,466.3 132.1,466.3 132.3,466.4 132.4,465.8 132.6,465.3 132.7,465.5 132.9,465.4 133.0,464.7 133.2,463.9 133.3,463.7 133.4,463.5 133.5,462.7 133.6,462.3 133.7,462.5 133.8,462.2 133.9,460.8 134.0,459.7 134.1,459.5 134.2,459.6 134.3,459.6 134.3,459.5 134.4,458.9 134.4,458.3 134.5,458.0 134.6,457.5 134.6,457.1 134.7,457.2 134.7,457.5 134.7,456.8 134.8,455.5 134.8,454.9 134.9,454.4 134.9,453.9 134.9,453.6 135.0,453.6 135.0,453.5 135.0,452.9 135.1,452.1 135.1,451.5 135.1,451.2 135.2,451.2 135.2,451.1 135.2,450.8 135.3,450.4 135.3,450.1 135.3,449.7 135.4,448.7 135.4,447.8 135.4,447.6 135.5,448.1 135.5,448.0 135.6,447.4 135.6,446.8 135.6,446.2 135.7,445.5 135.7,445.3 135.8,445.3 135.8,444.9 135.9,444.2 135.9,443.8 136.0,443.6 136.0,443.1 136.1,442.7 136.1,442.7 136.2,442.2 136.2,441.8 136.3,441.7 136.3,441.2 136.4,440.5 136.4,439.9 136.5,439.1 136.5,438.3 136.6,438.1 136.6,438.0 136.7,437.6 136.7,437.3 136.8,436.8 136.9,436.2 136.9,436.1 137.0,436.1 137.0,436.1 137.1,435.9 137.1,435.3 137.2,434.6 137.2,434.0 137.3,433.7 137.3,433.2 137.4,432.6 137.4,432.2 137.5,431.9 137.5,431.7 137.6,431.2 137.6,430.5 137.7,430.2 137.7,429.8 137.8,429.0 137.8,429.0 137.9,428.7 137.9,427.6 138.0,427.4 138.0,427.4 138.1,427.2 138.1,426.9 138.2,426.2 138.2,426.3 138.3,426.5 138.3,425.7 138.3,424.9 138.4,424.3 138.4,423.9 138.4,423.5 138.5,422.9 138.5,422.7 138.6,422.5 138.6,421.8 138.6,421.3 138.6,421.0 138.7,420.6 138.7,420.6 138.7,420.1 138.8,419.2 138.8,418.8 138.8,418.5 138.8,418.1 138.9,417.8 138.9,417.6 138.9,417.3 138.9,416.9 138.9,416.6 139.0,416.3 139.0,415.8 139.0,415.1 139.0,414.4 139.0,414.1 139.1,414.2 139.1,414.4 139.1,414.3 139.1,413.6 139.2,412.7 139.2,412.1 139.2,411.7 139.2,411.5 139.3,411.5 139.3,410.8 139.3,409.8 139.4,409.5 139.4,409.6 139.4,409.1 139.5,408.6 139.5,408.3 139.5,407.7 139.6,407.0 139.6,406.3 139.7,405.9 139.7,405.8 139.8,405.3 139.8,404.8 139.9,404.7 139.9,404.6 140.0,404.2 140.1,403.4 140.1,402.7 140.2,402.3 140.2,402.1 140.3,402.0 140.4,401.9 140.4,401.7 140.5,401.7 140.5,401.1 140.6,400.4 140.6,399.8 140.7,399.4 140.7,399.4 140.8,398.8 140.9,398.1 140.9,398.0 141.0,397.8 141.0,397.4 141.1,396.7 141.1,395.6 141.2,395.5 141.2,395.8 141.3,395.1 141.3,394.2 141.4,394.0 141.4,393.4 141.5,392.3 141.5,391.7 141.6,391.7 141.6,392.0 141.7,391.8 141.8,391.4 141.8,391.2 141.9,390.5 142.0,389.6 142.0,389.2 142.1,388.9 142.2,388.4 142.4,388.3 142.6,388.2 142.8,388.4 143.0,388.5 143.0,389.4 143.1,390.3 143.2,390.0 143.3,390.0 143.3,391.0 143.4,391.8 143.4,391.9 143.5,392.1 143.5,392.7 143.6,392.8 143.6,392.9 143.6,393.5 143.7,394.2 143.7,395.0 143.7,395.4 143.8,395.7 143.8,396.2 143.9,396.6 143.9,396.7 143.9,396.5 143.9,396.8 144.0,397.6 144.0,397.9 144.0,398.3 144.1,398.9 144.1,399.2 144.1,399.8 144.1,400.2 144.1,400.2 144.2,401.3 144.2,402.3 144.2,402.2 144.2,402.4 144.2,403.2 144.3,403.6 144.3,403.4 144.3,403.6 144.3,404.3 144.3,404.8 144.3,405.3 144.3,405.6 144.4,405.8 144.4,406.1 144.4,406.3 144.4,406.7 144.4,407.3 144.4,407.6 144.5,408.1 144.5,408.9 144.5,409.0 144.5,409.1 144.5,409.8 144.6,410.3 144.6,410.7 144.6,411.2 144.6,411.5 144.7,411.8 144.7,412.1 144.7,412.9 144.7,413.3 144.8,413.0 144.8,413.6 144.8,414.2 144.8,414.1 144.9,414.8 144.9,415.8 144.9,416.4 144.9,416.9 145.0,417.1 145.0,417.2 145.0,417.7 145.0,418.3 145.1,418.8 145.1,419.0 145.1,419.2 145.1,419.7 145.1,420.4 145.2,420.5 145.2,420.3 145.2,420.7 145.2,421.3 145.3,421.6 145.3,421.8 145.3,422.2 145.3,422.8 145.3,423.7 145.4,424.2 145.4,424.7 145.4,425.3 145.4,425.8 145.4,426.6 145.4,426.7 145.5,426.5 145.5,426.1 145.5,426.0 145.5,426.9 145.5,428.2 145.5,428.6 145.5,428.8 145.6,429.4 145.6,429.8 145.6,429.6 145.6,429.5 145.6,430.2 145.6,431.0 145.6,431.6 145.7,431.8 145.7,432.0 145.7,432.8 145.7,433.5 145.7,433.9 145.7,434.4 145.7,434.7 145.7,434.6 145.8,434.3 145.8,435.0 145.8,436.1 145.8,436.7 145.8,436.7 145.8,436.9 145.8,437.3 145.8,437.8 145.9,438.0 145.9,438.7 145.9,439.6 145.9,439.7 145.9,439.4 145.9,439.6 145.9,440.3 145.9,441.2 146.0,441.7 146.0,441.9 146.0,442.1 146.0,442.3 146.0,442.8 146.0,443.7 146.0,444.5 146.0,444.9 146.1,444.7 146.1,445.0 146.1,445.6 146.1,445.6 146.1,445.6 146.1,446.1 146.1,446.9 146.2,447.5 146.2,448.0 146.2,448.7 146.2,449.1 146.2,449.3 146.2,449.4 146.2,449.8 146.3,450.5 146.3,451.0 146.3,451.2 146.3,451.5 146.3,451.5 146.3,451.5 146.4,452.2 146.4,453.2 146.4,453.9 146.4,454.4 146.4,454.6 146.4,455.1 146.5,455.7 146.5,455.8 146.5,455.7 146.5,456.1 146.5,456.4 146.5,456.8 146.6,457.5 146.6,458.1 146.6,458.5 146.6,459.1 146.6,459.2 146.7,459.2 146.7,459.6 146.7,460.0 146.7,460.6 146.7,461.3 146.8,462.0 146.8,462.3 146.8,462.4 146.8,462.4 146.8,462.5 146.9,463.0 146.9,463.6 146.9,464.3 146.9,465.0 146.9,465.6 147.0,466.0 147.0,466.2 147.0,466.4 147.0,466.8 147.0,467.4 147.1,467.7 147.1,467.8 147.1,468.6 147.1,469.5 147.1,469.3 147.2,469.2 147.2,469.3 147.2,469.8 147.2,470.7 147.2,471.2 147.3,471.8 147.3,472.8 147.3,473.1 147.3,472.9 147.3,473.3 147.4,473.8 147.4,474.1 147.4,474.4 147.4,474.9 147.4,475.6 147.4,475.9 147.5,476.2 147.5,476.8 147.5,477.1 147.5,477.3 147.5,477.8 147.6,478.5 147.6,478.6 147.6,478.5 147.6,478.6 147.6,478.9 147.6,479.4 147.7,480.1 147.7,480.3 147.7,480.3 147.7,481.1 147.7,482.0 147.7,482.2 147.8,482.5 147.8,483.1 147.8,483.1 147.8,483.1 147.8,483.6 147.8,484.5 147.8,485.5 147.9,485.9 147.9,485.8 147.9,485.7 147.9,486.0 147.9,486.5 147.9,486.9 147.9,487.2 147.9,488.0 148.0,488.8 148.0,489.1 148.0,489.3 148.0,489.3 148.0,489.4 148.0,490.3 148.0,491.4 148.0,491.8 148.1,492.0 148.1,492.4 148.1,492.9 148.1,493.5 148.1,493.7 148.2,493.8 148.2,494.2 148.3,494.3 148.3,494.3 148.4,494.8 148.4,495.6 148.5,496.1 148.6,496.4 148.6,497.0 148.7,497.6 148.8,497.7 148.9,498.0 149.0,499.0 149.1,499.6 149.2,499.3 149.3,499.0 149.5,499.6 149.6,500.5 149.7,501.1 149.8,501.4 149.9,501.5 150.1,501.8 150.2,502.4 150.3,503.0 150.4,503.4 150.6,503.7 150.7,503.5 150.8,503.5 150.9,503.9 151.1,504.4 151.2,505.1 151.3,506.2 151.4,506.8 151.5,506.6 151.6,506.6 151.8,506.9 151.9,507.6 152.0,508.4 152.2,508.8 152.3,508.9 152.5,508.7 152.7,508.6 152.8,509.1 153.0,509.7 153.3,510.5 153.5,510.8 153.8,510.8 154.0,511.4 154.3,512.0 154.7,511.7 155.0,511.6 155.4,511.9 155.8,512.0 156.2,512.2 156.6,512.8 157.0,512.8 157.4,512.2 157.8,512.2 158.2,512.5 158.6,512.5 159.0,512.5 159.4,512.7 159.8,512.9 160.2,512.8 160.5,512.8 160.9,513.0 161.3,513.2 161.6,513.5 162.0,513.9 162.3,514.0 162.6,514.1 163.0,514.1 163.3,514.0 163.6,514.1 164.0,514.4 164.4,514.8 164.8,514.8 165.1,514.8 165.5,515.2 165.9,515.2 166.3,515.0 166.7,515.4 167.1,515.4 167.5,515.2 167.9,515.4 168.3,515.2 168.7,515.3 169.1,515.5 169.5,515.1 169.9,515.1 170.3,515.3 170.7,515.0 171.1,515.1 171.5,515.8 171.9,516.1 172.3,515.5 172.7,515.4 173.1,515.8 173.5,515.5 173.9,515.4 174.3,515.7 174.7,516.0 175.1,516.2 175.5,516.5 175.9,516.6 176.3,516.4 176.7,516.1 177.1,515.8 177.5,516.0 177.9,516.2 178.3,516.2 178.7,516.2 179.1,516.4 179.5,517.1 179.9,517.3 180.3,516.7 180.7,516.4 181.1,516.6 181.4,516.8 181.8,516.7 182.2,516.3 182.6,516.2 183.0,516.0 183.4,515.9 183.8,516.0 184.2,515.9 184.6,516.0 185.0,516.1 185.4,516.1 185.8,516.0 186.2,515.7 186.6,515.4 187.0,515.4 187.3,515.3 187.7,515.2 188.1,515.3 188.5,515.0 188.9,514.5 189.3,514.4 189.7,514.6 190.1,514.6 190.5,514.1 190.9,513.7 191.3,514.2 191.7,514.6 192.1,514.4 192.5,514.3 192.9,514.1 193.3,513.8 193.7,514.2 194.1,514.6 194.5,514.7 194.9,514.8 195.3,514.6 195.7,514.5 196.1,514.5 196.5,515.0 196.9,515.4 197.3,515.2 197.7,514.8 198.1,514.5 198.5,514.7 198.9,515.1 199.3,514.7 199.7,514.5 200.1,514.8 200.5,515.3 200.8,515.3 201.2,514.8 201.6,515.1 202.0,515.4 202.4,515.0 202.8,515.1 203.2,515.8 203.6,516.0 204.0,515.3 204.4,515.1 204.8,516.0 205.2,516.3 205.6,515.5 206.0,515.2 206.4,515.9 206.8,516.2 207.2,516.2 207.6,516.0 208.0,515.8 208.4,516.0 208.8,516.7 209.2,516.4 209.6,515.5 210.0,515.8 210.4,516.5 210.8,516.2 211.2,515.7 211.6,516.0 212.0,516.2 212.4,516.2 212.8,516.1 213.2,516.1 213.6,516.3 214.0,516.3 214.4,516.2 214.8,516.2 215.2,516.6 215.6,517.0 216.0,516.8 216.4,516.6 216.8,516.8 217.2,517.0 217.6,517.1 218.0,517.2 218.4,517.5 218.8,517.3 219.2,516.7 219.6,516.6 220.0,516.9 220.4,516.9 220.8,516.4 221.2,515.8 221.6,515.9 222.0,516.6 222.4,517.1 222.8,516.8 223.2,516.5 223.6,516.7 224.0,516.7 224.4,516.7 224.8,516.7 225.2,516.3 225.6,515.9 226.0,515.6 226.4,515.6 226.8,515.8 227.2,516.3 227.6,516.7 228.0,516.8 228.4,516.6 228.8,516.3 229.2,516.3 229.6,516.4 230.0,516.5 230.4,516.3 230.8,516.0 231.2,516.1 231.6,516.2 232.0,516.2 232.4,516.6 232.8,516.7 233.2,516.1 233.6,515.5 234.0,515.1 234.4,515.4 234.8,515.3 235.1,515.1 235.5,515.6 235.9,515.8 236.3,515.5 236.7,515.2 237.1,515.3 237.5,515.3 237.9,515.0 238.3,515.3 238.7,515.9 239.1,515.7 239.5,515.3 239.9,514.9 240.3,514.6 240.7,514.8 241.1,514.9 241.5,514.6 241.9,514.9 242.3,515.3 242.6,514.9 243.0,514.0 243.4,513.6 243.8,513.8 244.2,514.4 244.6,514.7 245.0,514.3 245.4,513.6 245.8,513.4 246.2,513.7 246.5,513.6 246.9,513.4 247.3,513.5 247.7,513.6 248.1,513.3 248.5,512.5 248.8,512.1 249.2,512.5 249.6,512.7 250.0,512.5 250.3,512.2 250.7,512.1 251.1,512.3 251.4,512.1 251.8,511.7 252.2,511.2 252.5,511.1 252.9,511.0 253.2,510.5 253.5,510.2 253.9,510.5 254.2,510.7 254.5,510.6 254.8,510.4 255.2,509.8 255.5,509.0 255.8,508.5 256.1,508.7 256.4,509.1 256.7,508.8 257.0,508.5 257.3,508.2 257.6,507.7 257.9,507.3 258.2,507.2 258.5,507.1 258.8,506.9 259.1,506.6 259.5,506.0 259.8,505.5 260.1,505.2 260.4,505.1 260.7,504.9 261.1,504.3 261.4,504.7 261.8,505.2 262.1,504.4 262.5,503.7 262.8,503.9 263.2,504.1 263.5,503.8 263.9,503.6 264.3,503.3 264.6,503.5 265.0,503.9 265.4,503.2 265.7,502.3 266.1,502.2 266.5,502.4 266.8,502.4 267.2,502.3 267.6,501.8 268.0,501.4 268.4,501.5 268.7,501.4 269.1,501.0 269.5,500.7 269.9,500.7 270.3,500.8 270.7,500.7 271.1,500.6 271.5,500.9 271.9,500.9 272.3,500.6 272.7,500.6 273.1,501.0 273.5,501.0 273.9,500.6 274.3,500.7 274.6,500.9 275.0,501.4 275.4,501.9 275.8,501.9 276.2,501.9 276.5,502.3 276.9,503.0 277.3,503.3 277.6,503.0 278.0,502.4 278.4,502.6 278.8,503.2 279.2,503.3 279.5,503.2 279.9,503.3 280.3,503.3 280.7,503.6 281.1,503.8 281.5,503.6 281.9,503.5 282.3,503.5 282.7,503.5 283.1,503.8 283.5,504.0 283.9,503.8 284.2,503.5 284.6,502.7 285.0,502.1 285.3,502.3 285.7,502.4 286.0,502.1 286.4,501.6 286.7,501.1 287.0,501.2 287.4,501.6 287.7,501.5 288.0,500.6 288.3,500.3 288.6,500.4 288.9,500.3 289.2,500.3 289.5,499.7 289.8,499.1 290.1,499.4 290.4,499.1 290.7,498.4 291.0,498.3 291.3,498.2 291.6,497.9 291.9,497.2 292.2,496.6 292.5,496.9 292.8,497.3 293.1,497.4 293.5,497.1 293.8,496.4 294.2,495.6 294.5,495.3 294.9,495.0 295.3,494.9 295.7,494.5 296.1,494.3 296.5,494.7 296.9,495.6 297.2,496.2 297.6,495.9 298.0,495.5 298.4,495.5 298.7,495.4 299.1,495.3 299.4,495.8 299.7,496.7 300.0,497.0 300.3,496.7 300.6,497.2 300.9,497.9 301.2,498.2 301.5,498.2 301.8,498.1 302.0,498.3 302.3,499.1 302.6,499.5 302.8,499.3 303.0,499.6 303.3,500.3 303.5,500.6 303.8,501.1 304.0,501.6 304.2,502.2 304.4,502.7 304.7,502.8 304.9,502.8 305.1,502.6 305.3,502.9 305.6,503.9 305.8,504.7 306.0,505.3 306.3,505.5 306.5,505.3 306.8,505.4 307.1,505.8 307.3,505.8 307.6,505.8 307.9,506.0 308.2,506.5 308.6,506.6 308.9,506.7 309.2,506.9 309.6,507.3 309.9,507.5 310.3,507.5 310.7,507.4 311.1,507.8 311.4,508.3 311.8,508.2 312.2,508.1 312.6,507.9 313.0,507.7 313.4,508.4 313.8,508.7 314.2,508.5 314.6,508.7 315.0,508.5 315.4,508.4 315.8,508.6 316.2,509.1 316.6,509.3 317.0,508.9 317.4,509.1 317.8,509.1 318.2,508.2 318.6,508.2 319.0,508.8 319.4,508.9 319.8,509.2 320.2,509.3 320.6,508.8 321.0,508.1 321.4,507.9 321.8,508.4 322.2,508.7 322.6,508.9 323.0,508.9 323.4,508.8 323.7,509.5 324.1,509.8 324.5,509.4 324.9,508.9 325.3,508.9 325.7,509.1 326.1,509.1 326.5,509.3 326.8,509.8 327.2,510.1 327.6,510.2 327.9,510.4 328.3,510.9 328.6,510.5 328.9,510.0 329.3,510.5 329.6,511.4 329.9,511.9 330.3,511.9 330.6,511.9 330.9,512.2 331.2,512.6 331.5,512.7 331.8,512.7 332.2,513.1 332.5,513.5 332.8,513.5 333.1,513.5 333.4,514.1 333.7,514.5 334.1,514.8 334.4,515.4 334.7,515.8 335.1,515.8 335.4,515.6 335.8,515.4 336.1,515.8 336.5,516.5 336.9,516.9 337.3,516.9 337.6,516.3 338.0,516.2 338.4,516.9 338.8,517.1 339.2,516.9 339.6,517.1 340.0,517.3 340.4,517.0 340.8,516.8 341.2,517.0 341.6,516.9 342.0,517.1 342.4,517.6 342.8,517.5 343.2,516.7 343.6,516.3 344.0,516.7 344.4,517.0 344.8,516.7 345.2,516.2 345.6,516.0 346.0,516.2 346.4,516.6 346.8,517.0 347.2,516.8 347.6,516.4 348.0,516.4 348.4,516.5 348.7,516.2 349.1,516.5 349.5,516.9 349.9,516.7 350.3,516.4 350.7,516.1 351.1,515.7 351.5,515.5 351.9,515.9 352.3,516.7 352.7,517.1 353.1,516.8 353.5,516.4 353.9,516.0 354.3,515.7 354.7,515.9 355.1,516.0 355.5,515.9 355.9,515.9 356.3,515.4 356.7,515.0 357.1,515.0 357.5,515.0 357.9,515.4 358.3,516.0 358.7,516.1 359.1,516.1 359.5,516.5 359.9,516.4 360.3,516.2 360.7,516.4 361.1,516.3 361.5,516.1 361.9,515.9 362.3,515.5 362.7,515.5 363.1,516.0 363.5,516.2 363.9,516.0 364.3,516.1 364.7,516.6 365.1,516.8 365.5,516.8 365.9,516.6 366.3,516.2 366.7,516.1 367.1,516.2 367.5,516.1 367.9,516.3 368.3,516.6 368.7,516.3 369.1,516.0 369.5,516.6 369.9,517.0 370.3,516.8 370.7,516.6 371.1,516.3 371.5,516.0 371.9,516.0 372.3,516.4 372.7,516.7 373.1,516.5 373.5,516.6" fill="none" stroke="#ff0000" stroke-width="2.5" stroke-linejoin="round" clip-path="url(#cpB)"/>
<path d="M28.0,474.0 28.4,474.2 28.8,474.6 29.2,474.6 29.6,474.1 30.0,473.7 30.4,473.8 30.8,474.2 31.2,474.7 31.6,474.4 32.0,473.8 32.4,473.6 32.8,473.4 33.2,473.7 33.6,474.1 34.0,474.2 34.4,474.1 34.8,473.8 35.2,474.0 35.6,474.3 36.0,473.7 36.4,473.5 36.8,473.8 37.2,473.8 37.6,474.0 38.0,474.3 38.4,474.3 38.8,474.3 39.2,474.5 39.6,474.9 40.0,474.9 40.4,474.4 40.8,474.1 41.2,474.1 41.6,474.5 42.0,474.6 42.4,474.2 42.8,474.2 43.2,473.9 43.6,473.6 44.0,473.9 44.4,474.7 44.8,474.7 45.2,474.2 45.6,474.2 46.0,474.1 46.4,473.7 46.8,474.2 47.2,474.8 47.6,474.4 48.0,474.2 48.4,474.3 48.8,474.0 49.2,474.2 49.6,474.6 50.0,474.5 50.4,474.4 50.8,474.3 51.2,474.4 51.5,474.7 51.9,475.1 52.3,475.0 52.7,474.2 53.1,473.9 53.5,474.7 53.9,475.0 54.3,474.3 54.7,473.9 55.1,474.4 55.5,474.9 55.9,474.7 56.3,474.7 56.7,475.2 57.1,475.5 57.5,475.2 57.9,474.9 58.3,475.0 58.7,475.5 59.1,475.4 59.5,474.7 59.9,474.1 60.3,474.2 60.7,474.4 61.0,474.4 61.4,474.5 61.8,474.5 62.2,474.3 62.6,474.2 62.9,473.9 63.3,473.4 63.7,473.6 64.1,473.8 64.4,473.1 64.8,472.8 65.2,473.1 65.5,472.7 65.9,472.1 66.3,471.9 66.7,472.4 67.0,472.8 67.4,472.6 67.8,472.2 68.1,471.9 68.5,471.4 68.9,471.2 69.3,471.1 69.6,471.2 70.0,471.4 70.4,471.1 70.8,470.7 71.1,470.7 71.5,470.3 71.9,469.8 72.2,469.6 72.6,469.4 73.0,469.6 73.4,469.7 73.7,469.6 74.1,469.5 74.5,469.2 74.9,468.8 75.2,468.5 75.6,468.5 76.0,468.3 76.4,468.2 76.7,468.3 77.1,468.0 77.5,467.4 77.9,467.2 78.2,467.6 78.6,467.9 79.0,467.9 79.4,468.0 79.7,467.9 80.1,467.5 80.5,466.9 80.9,466.4 81.2,466.2 81.6,466.3 82.0,466.5 82.4,466.4 82.7,466.2 83.1,466.1 83.5,466.1 83.8,465.9 84.2,465.7 84.6,465.5 85.0,465.0 85.3,464.8 85.7,465.0 86.1,465.0 86.4,464.6 86.8,464.7 87.2,464.9 87.5,464.3 87.9,463.9 88.3,463.7 88.6,463.3 89.0,463.6 89.3,464.1 89.7,463.8 90.0,463.4 90.4,463.1 90.7,462.8 91.1,462.7 91.4,462.2 91.8,461.8 92.1,461.8 92.5,461.9 92.8,461.6 93.1,461.0 93.4,460.5 93.8,461.0 94.1,461.5 94.4,460.8 94.7,459.8 95.0,459.3 95.3,459.1 95.6,458.9 95.9,458.7 96.2,458.6 96.4,458.6 96.7,458.2 97.0,457.2 97.2,456.9 97.5,456.6 97.7,456.0 98.0,455.9 98.2,456.0 98.5,455.8 98.7,455.2 98.9,455.5 99.1,455.6 99.3,455.0 99.5,454.3 99.7,453.6 99.9,453.0 100.1,453.0 100.3,452.9 100.4,453.0 100.6,452.9 100.7,452.2 100.9,451.6 101.0,451.1 101.2,450.0 101.3,449.3 101.4,449.2 101.5,449.1 101.6,448.9 101.7,448.7 101.8,448.8 101.9,448.6 102.0,447.7 102.1,447.0 102.1,446.8 102.2,446.3 102.3,445.6 102.4,445.4 102.5,445.2 102.5,445.0 102.6,444.9 102.7,444.3 102.8,443.3 102.9,442.7 103.0,442.4 103.1,442.1 103.2,441.8 103.3,441.6 103.4,441.5 103.5,441.0 103.6,440.1 103.6,439.7 103.7,439.8 103.8,439.5 103.9,439.2 104.0,438.8 104.1,438.5 104.2,438.3 104.2,437.8 104.3,437.0 104.4,436.2 104.5,436.0 104.6,435.6 104.6,435.1 104.7,434.8 104.8,434.8 104.8,434.3 104.9,433.3 105.0,432.8 105.1,432.8 105.1,432.6 105.2,432.1 105.3,431.6 105.3,431.3 105.4,431.2 105.5,430.8 105.5,430.1 105.6,429.4 105.6,428.8 105.7,428.9 105.8,428.7 105.8,428.2 105.9,427.6 105.9,426.5 106.0,425.7 106.1,425.7 106.1,425.7 106.2,425.6 106.2,425.3 106.3,425.0 106.3,424.6 106.4,423.9 106.4,423.0 106.5,423.0 106.5,423.0 106.6,422.1 106.6,421.9 106.7,422.2 106.7,421.6 106.8,420.7 106.8,420.5 106.9,420.6 106.9,420.1 107.0,419.4 107.0,419.1 107.1,418.9 107.1,418.8 107.2,418.3 107.2,417.2 107.3,416.5 107.3,416.7 107.3,416.9 107.4,416.3 107.4,415.9 107.5,415.6 107.5,414.8 107.6,414.2 107.6,413.7 107.6,413.3 107.7,413.3 107.7,412.9 107.8,412.0 107.8,411.2 107.9,410.9 107.9,410.8 107.9,410.6 108.0,410.1 108.0,409.5 108.1,409.3 108.1,409.3 108.1,408.8 108.2,408.5 108.2,408.0 108.3,407.1 108.3,406.6 108.4,406.7 108.4,406.6 108.4,405.8 108.5,404.7 108.5,403.8 108.6,403.5 108.6,403.8 108.7,404.1 108.7,403.8 108.7,403.1 108.8,402.8 108.8,402.5 108.9,401.9 108.9,401.5 109.0,400.8 109.0,399.9 109.1,400.0 109.1,400.2 109.1,399.5 109.2,398.9 109.2,398.4 109.3,398.2 109.3,398.1 109.4,397.4 109.4,396.2 109.5,395.4 109.5,395.3 109.6,394.9 109.6,394.7 109.7,395.2 109.7,394.7 109.8,393.9 109.8,393.9 109.9,393.7 110.0,393.1 110.0,392.6 110.1,391.7 110.1,391.0 110.2,390.7 110.2,390.7 110.3,390.6 110.4,389.9 110.4,389.2 110.5,389.1 110.5,389.0 110.6,388.8 110.7,388.5 110.7,387.7 110.8,387.0 110.9,386.8 110.9,386.6 111.0,386.1 111.0,386.2 111.1,386.1 111.2,385.3 111.2,384.9 111.3,384.8 111.4,383.9 111.4,383.1 111.5,382.8 111.5,382.9 111.6,382.6 111.7,382.1 111.7,381.8 111.8,381.8 111.8,381.1 111.9,380.1 111.9,379.8 112.0,379.8 112.1,379.5 112.1,378.8 112.2,378.1 112.2,377.5 112.3,377.0 112.3,376.9 112.4,376.8 112.5,376.4 112.5,375.8 112.6,375.2 112.7,374.7 112.7,374.5 112.8,374.5 112.9,374.2 113.0,373.6 113.2,373.1 113.3,372.6 113.7,372.2 113.9,372.6 114.1,373.3 114.3,374.0 114.4,374.3 114.5,374.7 114.6,375.3 114.7,375.7 114.8,376.1 114.9,376.5 115.0,376.6 115.1,376.9 115.2,377.3 115.3,377.7 115.4,378.3 115.5,379.0 115.6,379.3 115.7,379.1 115.7,379.2 115.8,379.8 115.9,380.6 116.0,381.1 116.1,381.2 116.1,381.6 116.2,382.1 116.3,382.3 116.4,382.9 116.5,383.9 116.5,384.4 116.6,384.4 116.7,384.4 116.8,384.6 116.8,385.2 116.9,385.7 117.0,385.9 117.0,386.2 117.1,386.6 117.2,387.1 117.2,387.8 117.3,388.5 117.4,388.4 117.4,388.1 117.5,388.2 117.6,388.7 117.6,389.4 117.7,390.4 117.8,390.8 117.8,391.0 117.9,391.3 117.9,391.4 118.0,391.4 118.1,391.8 118.1,392.8 118.2,393.5 118.2,393.8 118.3,394.6 118.3,395.2 118.4,395.2 118.5,395.3 118.5,395.6 118.6,396.2 118.6,396.8 118.7,397.3 118.7,397.9 118.8,398.4 118.9,398.5 118.9,398.7 119.0,399.1 119.0,399.3 119.1,399.5 119.1,400.1 119.2,400.6 119.2,401.1 119.3,401.8 119.3,401.6 119.4,401.7 119.4,402.2 119.5,402.2 119.6,402.5 119.6,402.9 119.7,403.5 119.7,404.4 119.8,405.2 119.8,405.9 119.9,406.3 119.9,406.7 120.0,406.8 120.0,407.0 120.1,407.5 120.1,407.6 120.2,408.1 120.2,409.0 120.3,409.4 120.3,409.6 120.4,410.1 120.4,410.3 120.5,410.2 120.6,410.4 120.6,410.9 120.7,411.4 120.7,412.1 120.8,412.9 120.8,413.1 120.9,413.1 120.9,413.3 121.0,413.6 121.0,414.3 121.1,415.1 121.1,415.1 121.2,415.0 121.2,415.7 121.3,416.6 121.3,417.2 121.4,417.4 121.4,417.5 121.5,417.9 121.5,418.3 121.6,418.8 121.7,419.5 121.7,419.8 121.8,419.9 121.8,420.2 121.9,420.2 122.0,420.6 122.0,421.5 122.1,421.8 122.2,421.7 122.3,422.2 122.3,423.3 122.4,424.2 122.5,424.6 122.6,424.4 122.7,424.2 122.8,424.8 122.8,425.7 122.9,426.1 123.0,426.4 123.1,426.9 123.2,427.8 123.3,428.2 123.4,427.9 123.5,428.2 123.7,429.0 123.8,429.3 123.9,429.9 124.0,430.4 124.1,430.1 124.3,430.4 124.4,430.9 124.6,431.4 124.7,432.1 124.9,432.7 125.1,432.8 125.3,432.9 125.5,433.3 125.7,433.4 125.9,433.8 126.2,434.5 126.5,434.2 126.9,434.1 127.3,434.3 127.6,433.9 128.0,433.9 128.4,434.4 128.8,434.3 129.2,433.9 129.5,433.7 129.8,433.3 130.1,433.1 130.4,433.5 130.6,433.9 130.9,433.3 131.1,432.4 131.3,431.5 131.4,431.1 131.6,430.9 131.8,430.8 131.9,430.5 132.1,430.0 132.2,429.6 132.3,428.9 132.5,428.4 132.6,428.3 132.7,427.6 132.9,427.1 133.0,427.0 133.1,426.8 133.2,426.8 133.3,426.7 133.4,426.2 133.5,425.6 133.6,425.3 133.7,424.7 133.8,423.9 133.9,423.6 134.0,423.1 134.0,422.6 134.1,422.5 134.2,422.3 134.3,422.3 134.3,421.7 134.4,420.6 134.5,420.7 134.5,421.2 134.6,420.8 134.7,420.2 134.7,419.2 134.8,418.2 134.8,417.9 134.9,418.2 135.0,417.9 135.0,417.1 135.1,416.7 135.1,416.2 135.2,415.5 135.2,415.5 135.3,416.1 135.3,415.8 135.4,415.1 135.4,414.6 135.5,413.7 135.6,412.6 135.6,412.2 135.7,412.4 135.7,412.5 135.8,412.4 135.9,411.8 135.9,410.7 136.0,410.2 136.0,410.2 136.1,409.8 136.2,408.9 136.2,408.3 136.3,408.6 136.4,408.5 136.4,407.7 136.5,407.3 136.6,407.3 136.7,407.0 136.7,406.6 136.8,406.3 136.9,405.5 136.9,404.7 137.0,403.9 137.1,403.2 137.2,403.3 137.2,403.7 137.3,403.1 137.4,402.5 137.5,401.9 137.5,401.2 137.6,401.1 137.7,401.3 137.7,400.9 137.8,400.3 137.9,400.4 138.0,400.2 138.0,399.4 138.1,398.6 138.2,397.6 138.2,397.1 138.3,397.4 138.4,397.3 138.4,396.7 138.5,396.1 138.6,395.9 138.6,396.0 138.7,395.8 138.8,394.7 138.8,394.0 138.9,394.2 139.0,394.1 139.0,393.5 139.1,393.3 139.1,393.2 139.2,392.5 139.2,391.5 139.3,390.6 139.4,390.2 139.4,390.1 139.5,389.9 139.5,389.6 139.6,389.3 139.6,389.1 139.7,388.3 139.7,387.7 139.8,387.4 139.8,387.0 139.9,386.9 139.9,386.7 140.0,386.4 140.0,386.2 140.1,385.6 140.1,384.8 140.1,383.9 140.2,383.2 140.2,383.1 140.3,383.0 140.3,382.8 140.4,382.2 140.4,381.2 140.5,380.6 140.5,380.7 140.6,380.9 140.6,380.4 140.7,379.6 140.7,379.4 140.8,379.3 140.9,378.9 140.9,378.2 141.0,377.7 141.0,377.8 141.1,377.7 141.2,377.4 141.3,377.0 141.3,376.2 141.4,375.8 141.5,375.6 141.7,375.2 141.8,374.6 142.2,374.5 142.4,374.9 142.5,375.6 142.6,376.1 142.7,376.5 142.8,376.8 142.9,376.6 142.9,377.2 143.0,378.1 143.1,377.9 143.1,378.1 143.2,379.1 143.3,379.4 143.3,379.5 143.4,379.9 143.4,380.0 143.5,380.2 143.5,380.9 143.6,381.3 143.6,381.5 143.7,381.9 143.7,382.4 143.8,383.1 143.8,383.7 143.9,384.2 143.9,384.1 144.0,384.1 144.0,384.5 144.1,385.5 144.1,386.6 144.2,386.8 144.2,386.9 144.3,387.2 144.3,387.5 144.4,388.0 144.4,388.5 144.5,389.1 144.5,389.4 144.6,389.6 144.6,389.8 144.6,390.0 144.7,390.7 144.7,392.2 144.8,393.2 144.8,392.9 144.9,392.3 144.9,392.6 144.9,393.0 145.0,393.0 145.0,393.5 145.0,394.1 145.1,394.6 145.1,395.6 145.1,396.0 145.2,395.8 145.2,395.8 145.2,396.0 145.3,396.5 145.3,397.5 145.3,398.3 145.4,398.6 145.4,398.8 145.4,399.0 145.4,399.3 145.5,399.5 145.5,400.3 145.5,401.4 145.5,401.7 145.5,401.5 145.6,402.0 145.6,403.0 145.6,403.3 145.6,402.8 145.6,403.2 145.7,404.1 145.7,404.6 145.7,404.7 145.7,405.1 145.7,405.9 145.8,406.7 145.8,406.8 145.8,406.7 145.8,407.1 145.8,407.9 145.8,408.1 145.8,408.1 145.9,408.4 145.9,408.6 145.9,408.8 145.9,409.1 145.9,409.6 145.9,410.1 145.9,410.8 146.0,411.6 146.0,412.2 146.0,412.2 146.0,412.4 146.0,412.9 146.0,412.7 146.0,413.1 146.0,414.3 146.1,415.2 146.1,415.5 146.1,415.4 146.1,415.4 146.1,416.0 146.1,416.7 146.1,416.8 146.2,416.9 146.2,417.1 146.2,417.8 146.2,418.9 146.2,419.2 146.2,419.0 146.2,419.3 146.2,420.0 146.3,420.6 146.3,420.8 146.3,420.9 146.3,421.0 146.3,421.6 146.3,422.8 146.4,423.3 146.4,423.1 146.4,423.6 146.4,424.4 146.4,424.6 146.4,424.9 146.5,425.6 146.5,426.2 146.5,426.8 146.5,427.0 146.5,427.0 146.6,427.4 146.6,427.6 146.6,427.7 146.6,428.3 146.6,429.0 146.7,429.3 146.7,430.0 146.7,430.5 146.7,430.8 146.7,431.3 146.8,431.9 146.8,432.3 146.8,432.3 146.8,432.5 146.9,433.3 146.9,434.2 146.9,434.4 146.9,434.1 147.0,434.3 147.0,434.8 147.0,435.4 147.0,436.3 147.1,436.8 147.1,436.6 147.1,437.2 147.1,437.7 147.2,437.7 147.2,438.0 147.2,438.5 147.2,439.2 147.3,439.6 147.3,439.8 147.3,440.4 147.4,441.0 147.4,441.6 147.4,442.1 147.4,442.4 147.5,442.8 147.5,443.1 147.5,443.1 147.6,443.3 147.6,444.1 147.6,444.9 147.7,445.1 147.7,444.7 147.7,445.2 147.8,446.0 147.8,446.0 147.8,446.7 147.9,447.9 147.9,448.1 147.9,448.0 148.0,448.8 148.0,449.4 148.0,449.6 148.1,449.7 148.1,449.8 148.2,449.9 148.2,450.5 148.2,451.2 148.3,451.9 148.3,452.4 148.4,452.0 148.4,451.7 148.4,452.6 148.5,453.5 148.5,454.0 148.6,454.2 148.6,454.6 148.7,455.3 148.7,455.6 148.8,455.9 148.8,456.0 148.9,456.4 148.9,456.9 149.0,456.7 149.0,457.2 149.1,458.1 149.2,458.7 149.2,459.2 149.3,459.4 149.4,460.0 149.4,460.8 149.5,460.8 149.6,460.7 149.7,460.8 149.8,461.4 149.9,462.3 150.0,462.8 150.1,462.9 150.2,463.1 150.4,463.5 150.5,463.5 150.6,464.0 150.8,464.5 150.9,464.8 151.1,465.3 151.3,465.5 151.5,466.1 151.7,467.1 151.9,467.6 152.1,467.8 152.3,467.9 152.5,468.3 152.8,468.8 153.0,469.4 153.3,469.8 153.6,469.5 153.9,469.4 154.2,469.1 154.5,468.5 154.8,469.1 155.2,470.2 155.5,470.6 155.9,470.8 156.2,471.3 156.6,471.5 157.0,471.4 157.4,471.8 157.8,472.1 158.2,471.5 158.6,471.3 159.0,471.6 159.4,471.5 159.8,471.3 160.2,471.4 160.6,471.6 161.0,472.1 161.4,472.4 161.7,472.5 162.1,472.2 162.5,471.9 162.9,472.2 163.3,472.5 163.7,472.9 164.1,473.4 164.4,472.9 164.8,472.7 165.2,473.3 165.6,473.4 166.0,473.1 166.4,473.2 166.8,473.5 167.1,473.8 167.5,473.8 167.9,473.6 168.3,473.8 168.7,474.2 169.1,473.6 169.5,472.8 169.9,473.0 170.3,473.5 170.7,473.9 171.1,474.3 171.5,474.6 171.9,474.5 172.3,474.3 172.7,474.6 173.1,474.8 173.5,474.5 173.9,474.7 174.3,475.1 174.7,474.5 175.1,474.0 175.4,474.3 175.8,474.5 176.2,474.7 176.6,475.0 177.0,474.9 177.4,474.8 177.8,475.0 178.2,475.0 178.6,474.9 179.0,474.9 179.4,474.8 179.8,474.6 180.2,474.5 180.6,474.5 181.0,474.2 181.4,474.4 181.8,474.9 182.2,474.8 182.6,474.6 183.0,474.7 183.4,474.7 183.8,474.7 184.2,474.6 184.6,474.6 185.0,474.7 185.4,474.7 185.8,474.5 186.2,474.0 186.6,474.1 187.0,474.7 187.4,474.6 187.8,474.4 188.2,474.4 188.6,474.3 189.0,474.0 189.4,473.7 189.8,473.9 190.2,474.3 190.6,474.7 191.0,474.7 191.4,474.6 191.8,474.7 192.2,474.2 192.6,473.3 193.0,473.6 193.4,474.5 193.8,474.5 194.2,474.0 194.6,473.8 195.0,474.1 195.4,474.6 195.8,474.8 196.2,474.9 196.6,474.2 197.0,473.7 197.4,474.2 197.8,474.3 198.2,474.4 198.6,474.7 199.0,474.7 199.4,474.6 199.8,474.4 200.2,474.1 200.6,474.2 201.0,474.4 201.4,474.8 201.8,474.8 202.2,474.6 202.6,474.6 203.0,474.5 203.4,474.4 203.8,474.5 204.2,474.5 204.6,474.3 205.0,474.1 205.4,474.3 205.8,474.3 206.2,474.1 206.6,474.0 207.0,474.2 207.4,474.4 207.8,474.3 208.2,474.6 208.6,475.0 209.0,474.5 209.4,473.9 209.8,474.3 210.2,474.7 210.6,474.7 211.0,474.8 211.4,474.9 211.8,474.6 212.2,474.3 212.6,474.2 213.0,474.3 213.4,474.5 213.8,474.7 214.2,474.7 214.6,474.5 215.0,474.6 215.4,474.4 215.8,474.0 216.2,473.9 216.6,474.2 217.0,474.4 217.4,474.5 217.8,474.4 218.2,474.5 218.6,474.8 219.0,474.6 219.4,474.2 219.8,474.3 220.2,474.7 220.6,475.1 221.0,474.9 221.4,474.6 221.8,474.8 222.2,474.8 222.6,475.1 223.0,475.4 223.4,475.4 223.8,475.4 224.2,475.3 224.6,475.1 225.0,475.4 225.4,475.6 225.8,475.2 226.2,475.0 226.6,475.1 227.0,475.1 227.4,475.2 227.8,475.7 228.2,475.4 228.6,475.0 229.0,475.1 229.4,475.4 229.8,475.5 230.2,475.4 230.6,475.6 231.0,475.3 231.4,474.6 231.8,474.3 232.2,474.4 232.6,474.8 233.0,475.3 233.4,474.9 233.8,474.3 234.2,474.5 234.6,474.8 235.0,474.5 235.4,474.4 235.8,474.2 236.2,474.0 236.6,474.4 237.0,474.7 237.4,474.4 237.8,473.9 238.2,473.7 238.6,473.9 239.0,474.2 239.4,474.3 239.8,474.5 240.2,474.9 240.6,474.7 241.0,474.0 241.4,474.0 241.8,474.5 242.2,474.4 242.6,474.7 243.0,474.7 243.4,474.1 243.8,473.9 244.2,473.9 244.6,473.6 245.0,473.5 245.4,473.9 245.8,474.2 246.2,474.0 246.6,473.9 247.0,473.7 247.4,473.8 247.8,474.0 248.2,473.5 248.6,473.6 249.0,473.9 249.4,473.8 249.8,474.2 250.2,474.4 250.6,473.9 251.0,473.6 251.4,473.6 251.8,473.7 252.2,473.8 252.5,473.8 252.9,473.9 253.3,473.8 253.6,473.7 254.0,473.1 254.3,472.4 254.7,472.4 255.0,472.2 255.3,471.8 255.6,471.9 255.9,471.7 256.2,471.2 256.5,470.7 256.8,470.6 257.1,470.4 257.4,470.0 257.7,469.4 258.0,469.1 258.3,469.2 258.6,468.5 258.9,467.7 259.2,467.7 259.5,467.9 259.9,467.9 260.2,467.7 260.5,467.4 260.9,467.5 261.3,467.9 261.6,468.0 262.0,467.5 262.4,466.9 262.8,466.6 263.1,466.5 263.5,466.6 263.9,466.5 264.3,465.7 264.7,465.4 265.1,465.3 265.5,465.2 265.9,465.3 266.2,465.2 266.6,465.1 267.0,465.6 267.4,465.6 267.8,465.1 268.2,465.1 268.6,465.3 269.0,465.2 269.4,465.2 269.8,465.6 270.2,465.8 270.6,465.6 271.0,465.6 271.4,466.2 271.8,466.2 272.2,465.5 272.6,465.6 273.0,465.8 273.4,465.7 273.7,465.8 274.1,465.9 274.5,465.8 274.9,465.8 275.2,465.7 275.6,465.8 276.0,466.3 276.3,467.5 276.7,468.1 277.1,467.9 277.4,467.8 277.8,468.1 278.2,468.4 278.5,468.5 278.9,468.2 279.3,468.0 279.7,468.0 280.1,467.9 280.5,467.7 280.9,467.9 281.3,468.5 281.7,468.6 282.1,468.3 282.5,468.9 282.8,468.9 283.2,468.1 283.6,467.7 284.0,467.8 284.3,467.9 284.7,467.3 285.0,466.9 285.4,466.6 285.7,466.2 286.1,466.5 286.4,466.9 286.7,466.6 287.1,466.4 287.4,466.2 287.7,465.9 288.1,465.3 288.4,464.8 288.8,464.7 289.1,464.8 289.4,465.1 289.8,465.0 290.1,464.3 290.5,463.5 290.8,463.3 291.2,463.5 291.5,463.8 291.9,463.4 292.3,462.9 292.6,462.7 293.0,462.9 293.4,462.8 293.8,462.5 294.2,462.6 294.6,462.8 294.9,462.7 295.3,462.9 295.7,462.8 296.1,462.5 296.5,462.5 296.9,462.3 297.3,462.1 297.7,462.1 298.1,462.4 298.4,462.8 298.8,463.2 299.2,463.5 299.5,463.2 299.8,462.8 300.2,463.1 300.5,463.5 300.8,463.9 301.1,464.3 301.4,464.9 301.8,465.2 302.1,465.0 302.4,465.3 302.7,465.5 303.0,465.6 303.3,466.3 303.6,466.6 303.9,466.6 304.2,467.3 304.5,468.3 304.8,467.8 305.1,467.1 305.4,467.5 305.7,468.1 306.0,468.5 306.3,468.6 306.7,468.9 307.0,469.3 307.3,469.3 307.7,469.2 308.0,469.5 308.3,470.1 308.7,470.7 309.0,470.8 309.4,470.7 309.8,470.9 310.2,471.5 310.5,471.8 310.9,471.5 311.3,471.5 311.7,471.6 312.1,471.3 312.5,471.5 312.9,471.5 313.3,471.5 313.7,471.8 314.1,472.1 314.5,471.9 314.9,471.5 315.3,471.7 315.7,471.9 316.1,471.2 316.5,471.1 316.9,471.4 317.3,471.2 317.6,471.1 318.0,471.1 318.4,471.2 318.8,471.1 319.2,470.7 319.6,470.4 320.0,470.3 320.4,470.1 320.8,469.9 321.2,469.9 321.6,470.4 322.0,470.9 322.4,471.0 322.7,470.4 323.1,470.0 323.5,470.1 323.9,469.9 324.3,470.0 324.7,470.3 325.1,470.0 325.5,470.1 325.9,470.3 326.3,470.0 326.7,470.0 327.1,470.3 327.5,470.6 327.8,471.1 328.2,471.1 328.6,470.6 329.0,470.6 329.3,470.9 329.7,470.8 330.1,471.0 330.4,471.6 330.8,471.6 331.1,471.5 331.5,471.9 331.8,472.3 332.2,472.2 332.6,472.6 332.9,473.6 333.3,473.6 333.7,472.8 334.0,472.8 334.4,473.3 334.8,473.4 335.1,473.6 335.5,473.9 335.9,473.9 336.3,473.2 336.7,473.0 337.1,473.8 337.5,474.6 337.9,474.4 338.3,474.1 338.7,474.6 339.1,474.9 339.5,474.6 339.9,474.5 340.3,474.9 340.7,475.0 341.1,474.8 341.5,474.7 341.9,474.4 342.3,474.1 342.6,474.0 343.0,474.1 343.4,474.1 343.8,474.1 344.2,474.4 344.6,474.4 345.0,474.0 345.4,473.5 345.8,473.5 346.2,473.4 346.6,473.1 347.0,473.3 347.4,473.8 347.8,473.7 348.2,473.0 348.6,472.8 348.9,472.9 349.3,473.3 349.7,473.3 350.1,472.6 350.5,472.2 350.9,472.6 351.3,473.0 351.7,473.1 352.1,473.6 352.5,473.7 352.9,473.1 353.3,472.4 353.7,472.3 354.1,472.9 354.5,473.2 354.9,473.2 355.3,473.3 355.7,473.5 356.1,473.6 356.5,473.3 356.9,472.7 357.3,472.5 357.7,472.3 358.1,472.4 358.5,473.2 358.9,473.9 359.3,474.1 359.7,473.6 360.1,473.2 360.5,473.2 360.9,473.7 361.3,473.8 361.7,473.6 362.1,473.9 362.5,473.7 362.9,473.4 363.3,473.8 363.7,474.0 364.1,473.8 364.5,474.1 364.9,474.8 365.3,475.2 365.7,474.8 366.1,474.0 366.5,474.0 366.9,474.3 367.3,474.0 367.7,473.6 368.1,474.0 368.5,474.9 368.9,475.2 369.3,474.9 369.6,474.6 370.0,474.4 370.4,474.5 370.8,474.6 371.2,474.7 371.6,474.9 372.0,474.6 372.4,474.5 372.8,475.0 373.2,475.0 373.6,474.9" fill="none" stroke="#00ff00" stroke-width="2.5" stroke-linejoin="round" clip-path="url(#cpB)"/>
<path d="M27.8,432.4 28.2,432.1 28.6,432.3 29.0,432.4 29.4,432.4 29.8,431.8 30.1,431.6 30.5,432.2 30.9,432.5 31.3,432.2 31.7,432.1 32.1,432.1 32.5,431.9 32.9,431.8 33.3,431.9 33.7,432.2 34.1,432.5 34.5,432.4 34.9,432.6 35.3,432.5 35.7,431.8 36.1,431.8 36.5,432.1 36.9,432.4 37.3,432.3 37.7,432.2 38.1,432.7 38.5,433.1 38.9,432.6 39.3,432.3 39.7,432.5 40.1,432.8 40.5,433.0 40.9,433.1 41.3,433.1 41.7,433.1 42.1,432.9 42.5,432.2 42.9,432.3 43.3,432.6 43.7,432.6 44.1,432.7 44.5,432.6 44.9,432.5 45.3,432.5 45.7,432.6 46.1,432.8 46.5,432.8 46.9,433.1 47.3,433.5 47.7,433.1 48.1,432.8 48.5,433.2 48.9,433.6 49.3,433.9 49.7,433.7 50.1,433.3 50.5,433.6 50.9,433.8 51.3,433.5 51.7,433.0 52.1,432.4 52.5,433.1 52.9,433.7 53.3,433.2 53.7,433.2 54.1,433.8 54.5,434.2 54.9,434.1 55.3,433.5 55.7,433.7 56.1,433.9 56.5,433.5 56.9,433.9 57.3,434.6 57.7,434.5 58.1,433.6 58.5,432.8 58.8,433.2 59.2,433.6 59.6,433.4 60.0,433.8 60.4,434.2 60.8,433.4 61.2,432.8 61.6,432.8 62.0,432.7 62.4,432.6 62.7,432.7 63.1,432.8 63.5,432.4 63.9,432.0 64.3,432.1 64.7,432.2 65.0,432.1 65.4,432.3 65.8,432.1 66.2,431.5 66.6,431.8 67.0,432.4 67.4,432.2 67.7,431.6 68.1,431.3 68.5,430.7 68.9,430.4 69.3,430.8 69.7,430.9 70.0,430.8 70.4,430.6 70.8,430.3 71.2,430.2 71.6,430.3 72.0,430.3 72.3,430.1 72.7,429.7 73.1,429.1 73.5,429.2 73.9,430.0 74.3,430.1 74.6,429.5 75.0,428.9 75.4,428.6 75.8,428.9 76.2,428.8 76.6,428.3 76.9,428.5 77.3,428.7 77.7,428.3 78.1,427.9 78.5,427.8 78.9,427.7 79.2,428.0 79.6,427.8 80.0,427.4 80.4,427.8 80.8,427.8 81.1,427.5 81.5,427.5 81.9,427.0 82.3,426.9 82.6,426.7 83.0,426.1 83.4,426.3 83.8,426.3 84.1,425.9 84.5,425.6 84.9,425.5 85.2,425.1 85.6,424.9 86.0,424.8 86.3,424.9 86.7,425.0 87.1,424.5 87.4,424.1 87.8,424.2 88.1,424.3 88.5,424.4 88.9,424.2 89.2,423.6 89.5,423.3 89.9,423.4 90.2,423.4 90.6,423.1 90.9,422.2 91.2,422.0 91.6,422.7 91.9,422.7 92.2,422.0 92.5,421.5 92.9,421.0 93.2,420.5 93.5,420.4 93.8,420.3 94.1,419.7 94.4,419.3 94.7,419.4 95.0,419.5 95.3,419.1 95.6,418.4 95.8,417.9 96.1,417.9 96.4,417.7 96.7,417.0 96.9,416.7 97.2,416.8 97.4,416.7 97.7,416.4 97.9,416.2 98.2,415.9 98.4,415.2 98.6,414.6 98.9,414.5 99.1,414.5 99.3,414.3 99.5,413.7 99.7,413.4 99.9,413.5 100.1,413.4 100.3,413.0 100.5,412.6 100.6,412.2 100.8,411.8 101.0,411.5 101.1,410.9 101.3,410.4 101.4,410.3 101.6,410.3 101.7,409.5 101.8,408.6 102.0,408.2 102.1,408.0 102.2,407.5 102.3,406.6 102.4,406.1 102.5,406.0 102.6,405.6 102.7,405.5 102.8,405.6 102.9,405.6 102.9,405.3 103.0,404.4 103.1,403.4 103.2,402.7 103.2,402.5 103.3,402.1 103.4,401.5 103.4,401.4 103.5,401.5 103.5,401.1 103.6,400.6 103.6,400.0 103.7,399.5 103.7,398.8 103.8,398.3 103.8,398.6 103.9,398.7 103.9,398.1 104.0,397.4 104.0,396.9 104.1,396.8 104.1,396.3 104.2,395.9 104.2,395.4 104.3,394.9 104.3,394.8 104.4,394.4 104.4,393.9 104.5,393.6 104.5,393.0 104.6,392.6 104.6,392.2 104.7,391.8 104.7,391.3 104.8,390.6 104.8,389.9 104.9,389.7 104.9,389.6 105.0,389.6 105.0,389.2 105.1,388.3 105.1,387.7 105.2,387.0 105.3,386.7 105.3,386.4 105.4,385.5 105.4,385.3 105.5,385.6 105.6,385.5 105.6,384.9 105.7,384.8 105.7,384.8 105.8,384.1 105.8,383.5 105.9,383.6 106.0,383.1 106.0,382.5 106.1,382.3 106.1,381.9 106.2,381.4 106.3,380.7 106.3,380.2 106.4,380.1 106.4,379.6 106.5,378.7 106.6,378.5 106.6,378.5 106.7,378.0 106.7,377.6 106.8,377.4 106.8,376.7 106.9,376.0 107.0,376.1 107.0,376.1 107.1,375.9 107.1,375.5 107.2,374.9 107.2,374.6 107.3,374.2 107.3,373.7 107.4,373.6 107.4,373.4 107.5,372.9 107.5,372.5 107.6,371.7 107.6,370.9 107.7,370.7 107.7,370.4 107.8,369.8 107.8,369.6 107.9,369.4 107.9,368.7 108.0,368.0 108.0,367.8 108.1,367.4 108.1,366.7 108.1,366.1 108.2,365.8 108.2,365.5 108.3,365.4 108.3,365.6 108.4,365.4 108.4,364.9 108.4,364.4 108.5,364.0 108.5,363.4 108.6,362.7 108.6,362.3 108.7,361.9 108.7,361.2 108.7,360.6 108.8,360.2 108.8,359.7 108.9,359.3 108.9,359.3 108.9,359.0 109.0,358.6 109.0,358.3 109.1,357.9 109.1,357.2 109.1,356.5 109.2,355.6 109.2,354.8 109.3,355.0 109.3,355.2 109.4,354.7 109.4,354.6 109.4,354.6 109.5,354.1 109.5,354.1 109.6,353.9 109.6,353.5 109.7,353.2 109.7,352.2 109.7,351.3 109.8,350.9 109.8,350.3 109.9,349.4 109.9,349.5 110.0,349.8 110.0,349.2 110.1,348.4 110.1,348.0 110.2,347.7 110.2,347.3 110.3,346.6 110.3,345.9 110.4,345.4 110.4,345.4 110.5,345.7 110.5,345.9 110.6,345.6 110.6,345.0 110.7,344.3 110.8,343.3 110.8,342.6 110.9,342.1 110.9,341.5 111.0,341.7 111.1,342.0 111.1,341.6 111.2,341.0 111.2,340.1 111.3,339.3 111.4,339.0 111.4,339.1 111.5,339.3 111.6,339.0 111.6,337.9 111.7,337.2 111.8,336.9 111.8,336.4 111.9,335.9 111.9,335.8 112.0,335.7 112.1,335.1 112.1,334.4 112.2,333.8 112.3,333.5 112.4,333.4 112.4,332.9 112.5,332.4 112.6,332.1 112.7,331.5 112.8,330.9 112.9,330.7 113.0,331.1 113.1,330.9 113.4,330.6 113.7,330.8 114.0,330.7 114.1,330.9 114.3,331.4 114.4,331.9 114.5,332.2 114.7,332.4 114.8,332.6 114.9,333.2 115.0,333.5 115.1,333.3 115.1,333.7 115.2,334.3 115.3,334.5 115.4,334.8 115.5,335.5 115.6,335.9 115.7,336.2 115.7,336.4 115.8,336.6 115.9,337.0 116.0,337.2 116.0,337.8 116.1,338.6 116.2,339.2 116.3,339.6 116.3,340.4 116.4,341.2 116.5,341.1 116.5,340.8 116.6,341.1 116.6,341.7 116.7,342.1 116.8,342.4 116.8,343.1 116.9,344.0 116.9,344.2 117.0,344.2 117.0,344.6 117.1,345.3 117.1,346.1 117.2,346.5 117.2,346.3 117.3,346.0 117.3,346.9 117.4,348.3 117.4,348.8 117.5,348.4 117.5,348.3 117.6,349.0 117.6,349.2 117.7,349.2 117.7,350.0 117.8,351.2 117.9,351.8 117.9,351.8 118.0,352.1 118.0,352.8 118.1,352.7 118.1,352.7 118.2,353.2 118.2,354.2 118.3,354.8 118.3,355.1 118.4,355.3 118.5,355.5 118.5,355.6 118.6,355.9 118.6,356.8 118.7,357.5 118.8,357.5 118.8,357.8 118.9,358.6 119.0,359.3 119.0,359.5 119.1,359.5 119.1,359.4 119.2,359.6 119.3,360.2 119.3,360.9 119.4,361.4 119.5,361.9 119.6,362.5 119.6,362.9 119.7,363.3 119.8,363.7 119.8,363.9 119.9,364.3 120.0,364.4 120.1,364.7 120.1,365.3 120.2,365.7 120.3,366.2 120.4,366.9 120.4,367.3 120.5,367.4 120.6,367.6 120.7,368.3 120.7,368.8 120.8,369.0 120.9,369.5 121.0,370.2 121.1,370.5 121.1,370.4 121.2,370.3 121.3,370.9 121.4,371.9 121.5,372.7 121.5,372.8 121.6,373.0 121.7,373.6 121.8,373.8 121.8,374.0 121.9,374.2 122.0,374.5 122.1,375.3 122.1,375.8 122.2,375.8 122.3,376.0 122.4,376.9 122.5,377.5 122.5,377.4 122.6,377.5 122.7,378.0 122.8,377.9 122.8,378.1 122.9,378.9 123.0,379.5 123.0,380.0 123.1,380.5 123.2,381.1 123.2,381.4 123.3,381.6 123.4,382.1 123.5,382.9 123.5,383.6 123.6,384.0 123.6,383.7 123.7,383.1 123.8,383.7 123.9,384.8 123.9,385.2 124.0,385.5 124.1,386.4 124.2,386.8 124.2,386.9 124.3,387.3 124.4,387.6 124.5,387.9 124.6,388.5 124.7,388.6 124.8,388.7 124.9,389.2 125.0,389.8 125.2,390.3 125.3,390.9 125.4,391.4 125.5,392.1 125.7,392.4 125.8,392.2 126.0,392.8 126.2,393.4 126.4,393.3 126.7,393.3 127.0,394.2 127.3,394.6 127.6,394.3 128.0,394.4 128.4,394.5 128.8,394.3 129.2,394.1 129.6,394.2 129.9,394.4 130.3,393.9 130.6,393.5 130.9,393.3 131.1,392.8 131.3,392.6 131.5,392.6 131.7,392.3 131.8,392.0 132.0,391.5 132.1,391.0 132.2,390.7 132.4,390.6 132.5,390.2 132.6,389.5 132.7,389.2 132.8,388.8 132.9,388.1 133.0,387.6 133.1,387.1 133.2,386.3 133.3,385.9 133.4,385.9 133.5,385.6 133.6,385.5 133.7,385.1 133.8,384.6 133.9,384.3 134.0,383.9 134.1,383.3 134.1,382.8 134.2,382.7 134.3,382.7 134.3,382.6 134.4,382.1 134.5,381.3 134.6,380.3 134.6,379.8 134.7,379.9 134.7,379.8 134.8,379.2 134.9,379.1 134.9,378.8 135.0,378.3 135.0,377.9 135.1,377.1 135.1,376.1 135.2,375.8 135.2,375.8 135.3,375.4 135.4,374.8 135.4,374.2 135.5,373.9 135.5,373.7 135.6,373.7 135.6,373.6 135.7,373.1 135.7,372.5 135.8,372.0 135.8,371.6 135.9,371.4 135.9,370.8 136.0,369.7 136.0,369.5 136.1,369.8 136.2,369.4 136.2,368.6 136.3,368.4 136.3,368.2 136.4,367.2 136.5,366.4 136.5,366.1 136.6,366.0 136.7,365.9 136.7,365.7 136.8,365.7 136.8,365.0 136.9,364.1 137.0,363.5 137.0,363.2 137.1,363.4 137.2,363.3 137.2,362.7 137.3,362.1 137.4,361.5 137.4,361.6 137.5,361.4 137.6,360.6 137.7,360.4 137.7,359.9 137.8,358.6 137.9,357.9 137.9,358.1 138.0,358.2 138.1,357.7 138.1,357.3 138.2,357.1 138.3,356.7 138.3,356.2 138.4,355.8 138.5,355.5 138.5,355.1 138.6,354.9 138.7,354.2 138.7,353.5 138.8,353.5 138.8,352.9 138.9,352.0 139.0,351.7 139.0,351.2 139.1,351.0 139.1,351.0 139.2,350.5 139.3,350.1 139.3,350.0 139.4,349.9 139.4,349.1 139.5,348.0 139.5,347.5 139.6,347.4 139.6,347.3 139.7,347.2 139.8,347.0 139.8,346.5 139.9,345.9 139.9,345.5 140.0,345.1 140.0,344.8 140.1,344.7 140.1,344.1 140.2,343.1 140.2,342.3 140.3,342.1 140.3,341.8 140.4,341.0 140.4,341.0 140.5,341.0 140.5,340.4 140.6,340.1 140.6,340.5 140.7,340.2 140.7,339.4 140.8,339.3 140.8,338.7 140.9,338.2 141.0,338.0 141.0,337.2 141.1,336.3 141.1,335.9 141.2,335.5 141.3,335.1 141.3,335.1 141.4,335.1 141.5,334.5 141.6,334.1 141.7,333.9 141.8,333.3 141.9,332.9 142.0,332.5 142.3,332.2 142.6,332.5 142.7,332.8 142.8,333.1 142.9,333.2 143.0,333.7 143.1,334.4 143.2,334.6 143.2,334.6 143.3,335.0 143.4,335.6 143.4,336.2 143.5,336.8 143.5,337.1 143.6,337.3 143.6,337.6 143.7,337.4 143.7,337.5 143.8,338.3 143.8,338.8 143.9,339.1 143.9,339.8 144.0,340.5 144.0,340.8 144.1,341.3 144.1,341.6 144.2,341.5 144.2,342.0 144.3,343.0 144.3,343.8 144.3,344.5 144.4,345.0 144.4,345.1 144.5,345.2 144.5,345.5 144.6,345.8 144.6,346.0 144.6,346.6 144.7,347.2 144.7,347.2 144.8,347.7 144.8,348.4 144.8,348.6 144.9,348.7 144.9,349.1 144.9,349.5 145.0,349.8 145.0,350.4 145.0,350.8 145.1,351.3 145.1,351.8 145.2,352.0 145.2,352.5 145.2,352.9 145.3,353.5 145.3,353.9 145.3,354.1 145.4,354.2 145.4,354.4 145.4,355.0 145.5,355.8 145.5,356.6 145.5,357.0 145.6,357.0 145.6,357.1 145.6,356.9 145.7,357.1 145.7,357.8 145.7,358.4 145.8,358.5 145.8,359.0 145.8,359.9 145.9,360.1 145.9,360.7 145.9,361.9 146.0,362.1 146.0,362.2 146.0,362.6 146.0,363.1 146.1,363.5 146.1,363.3 146.1,363.5 146.1,364.2 146.2,364.9 146.2,365.4 146.2,365.3 146.2,365.7 146.3,366.6 146.3,367.3 146.3,367.8 146.3,368.4 146.3,368.8 146.3,368.8 146.4,369.1 146.4,369.6 146.4,369.7 146.4,369.9 146.4,370.2 146.4,370.5 146.4,370.8 146.4,371.1 146.5,371.6 146.5,372.1 146.5,372.8 146.5,374.0 146.5,374.8 146.5,374.7 146.5,374.5 146.5,374.9 146.5,375.7 146.6,376.1 146.6,376.2 146.6,376.6 146.6,377.0 146.6,377.3 146.6,377.3 146.6,377.5 146.6,378.1 146.6,378.9 146.6,379.2 146.6,379.6 146.7,380.3 146.7,380.8 146.7,380.9 146.7,380.8 146.7,381.6 146.7,382.1 146.7,381.9 146.7,382.4 146.7,383.2 146.8,383.4 146.8,383.8 146.8,384.6 146.8,385.0 146.8,385.3 146.8,385.6 146.8,386.2 146.8,387.0 146.9,386.8 146.9,386.8 146.9,387.6 146.9,388.1 146.9,388.5 146.9,388.9 147.0,389.3 147.0,389.9 147.0,390.5 147.0,390.9 147.0,390.9 147.1,390.9 147.1,391.6 147.1,392.3 147.1,392.9 147.1,393.2 147.2,393.3 147.2,393.8 147.2,394.4 147.2,394.4 147.3,394.4 147.3,395.0 147.3,395.9 147.3,396.3 147.4,396.1 147.4,396.5 147.4,397.2 147.4,397.4 147.5,397.8 147.5,398.0 147.5,398.2 147.5,399.0 147.6,399.9 147.6,400.9 147.6,401.4 147.7,401.4 147.7,401.8 147.7,402.1 147.8,401.9 147.8,402.4 147.8,403.2 147.9,403.4 147.9,403.6 148.0,404.0 148.0,404.3 148.0,404.8 148.1,405.6 148.1,406.1 148.2,405.9 148.2,406.0 148.2,406.4 148.3,406.7 148.3,407.4 148.4,408.7 148.4,409.5 148.5,409.2 148.5,409.1 148.6,409.4 148.6,409.3 148.7,410.1 148.7,411.3 148.8,411.5 148.8,411.0 148.9,411.4 148.9,412.4 149.0,412.8 149.0,413.1 149.1,413.6 149.1,413.6 149.2,413.8 149.2,414.6 149.3,415.0 149.4,414.9 149.4,415.4 149.5,416.1 149.6,416.7 149.6,417.2 149.7,417.8 149.7,418.2 149.8,418.3 149.9,418.2 150.0,418.2 150.0,419.0 150.1,420.5 150.2,421.2 150.3,420.6 150.4,420.6 150.5,421.5 150.6,422.0 150.7,422.1 150.8,422.3 150.9,422.5 151.0,423.2 151.2,424.3 151.3,424.8 151.5,424.7 151.6,424.9 151.8,425.6 151.9,426.1 152.1,426.2 152.3,426.3 152.4,426.9 152.6,427.3 152.8,427.1 153.0,427.3 153.3,428.1 153.5,428.8 153.8,429.1 154.0,429.1 154.3,429.0 154.6,429.1 154.9,429.2 155.3,429.4 155.6,429.8 156.0,430.2 156.4,430.5 156.8,430.2 157.2,430.1 157.6,430.5 158.0,430.9 158.4,430.7 158.8,430.5 159.2,430.6 159.6,430.5 160.0,430.6 160.4,431.0 160.8,431.3 161.2,431.5 161.6,431.5 162.0,431.3 162.3,431.0 162.7,430.9 163.1,431.3 163.5,431.7 163.8,431.8 164.2,431.7 164.6,431.5 164.9,431.7 165.3,432.5 165.7,432.9 166.0,432.7 166.4,433.0 166.8,433.2 167.1,432.9 167.5,432.7 167.9,433.0 168.3,433.5 168.7,433.6 169.1,433.1 169.5,432.9 169.9,433.4 170.3,433.9 170.7,433.7 171.1,433.7 171.5,433.7 171.9,433.5 172.3,433.7 172.7,433.9 173.1,433.5 173.5,433.5 173.9,433.7 174.3,433.7 174.7,433.7 175.1,433.8 175.5,433.6 175.9,433.3 176.2,433.3 176.6,433.8 177.0,434.1 177.4,433.9 177.8,433.5 178.2,433.7 178.6,433.7 179.0,433.4 179.4,433.4 179.8,433.7 180.2,433.5 180.6,432.9 181.0,432.8 181.4,432.8 181.8,432.8 182.2,433.1 182.6,432.8 183.0,432.2 183.3,432.2 183.7,432.1 184.1,432.0 184.5,432.2 184.9,432.2 185.3,432.1 185.7,432.4 186.1,432.5 186.5,432.1 186.9,431.9 187.3,432.1 187.7,431.7 188.1,431.2 188.5,431.2 188.9,431.7 189.3,431.9 189.7,431.7 190.1,431.6 190.5,431.3 190.9,431.0 191.3,431.1 191.7,431.5 192.1,431.8 192.5,431.9 192.9,431.4 193.3,431.0 193.7,431.3 194.1,431.6 194.5,431.5 194.9,431.8 195.3,432.1 195.7,431.9 196.1,431.5 196.5,431.0 196.9,431.0 197.3,431.2 197.7,431.6 198.1,431.7 198.5,431.8 198.9,432.1 199.3,432.1 199.7,431.8 200.1,431.5 200.5,431.5 200.8,432.1 201.2,432.7 201.6,432.3 202.0,432.1 202.4,432.2 202.8,432.5 203.2,432.5 203.6,432.0 204.0,431.7 204.4,432.1 204.8,432.7 205.2,432.6 205.6,432.5 206.0,432.1 206.4,431.9 206.8,432.4 207.2,432.6 207.6,432.4 208.0,432.4 208.4,432.5 208.8,432.5 209.2,432.6 209.6,432.3 210.0,431.9 210.4,432.2 210.8,432.4 211.2,432.4 211.6,432.7 212.0,432.7 212.4,433.0 212.8,433.2 213.2,432.8 213.6,432.2 214.0,432.5 214.4,433.0 214.8,432.8 215.2,432.5 215.6,432.8 216.0,433.1 216.4,433.2 216.8,433.0 217.2,432.7 217.6,432.7 218.0,432.8 218.4,432.6 218.8,432.3 219.2,432.4 219.6,432.8 220.0,433.5 220.4,434.0 220.8,434.0 221.2,433.5 221.6,433.2 222.0,433.3 222.4,433.3 222.8,433.1 223.2,432.8 223.6,432.9 224.0,433.5 224.4,433.8 224.8,433.8 225.2,434.3 225.6,434.2 226.0,433.2 226.4,432.8 226.8,432.9 227.2,432.9 227.6,433.0 228.0,433.2 228.4,433.6 228.8,433.7 229.2,433.4 229.6,433.3 230.0,433.3 230.4,433.3 230.8,433.4 231.2,433.4 231.6,433.1 232.0,433.0 232.4,433.5 232.8,433.9 233.2,433.2 233.6,432.9 234.0,433.3 234.4,432.7 234.8,432.0 235.2,432.6 235.6,433.3 236.0,433.4 236.4,433.5 236.8,433.4 237.2,432.8 237.6,432.1 238.0,432.2 238.4,432.8 238.8,432.9 239.2,432.5 239.6,432.4 240.0,432.4 240.4,431.8 240.8,431.6 241.2,432.2 241.6,432.5 242.0,432.0 242.4,431.6 242.8,431.8 243.2,432.0 243.6,432.2 244.0,432.3 244.4,432.3 244.8,432.2 245.2,432.1 245.6,432.3 245.9,432.5 246.3,432.3 246.7,432.1 247.1,431.8 247.5,431.8 247.9,431.5 248.3,431.1 248.7,431.0 249.1,430.9 249.4,430.8 249.8,431.0 250.2,431.1 250.6,430.7 251.0,430.3 251.3,429.9 251.7,430.2 252.1,430.6 252.4,430.4 252.8,429.9 253.2,429.3 253.5,428.9 253.9,428.8 254.2,428.3 254.6,428.3 254.9,428.5 255.2,428.5 255.6,428.4 255.9,427.8 256.3,427.5 256.6,427.2 256.9,427.0 257.3,426.8 257.6,426.7 258.0,426.5 258.3,426.4 258.6,426.6 259.0,426.5 259.3,426.0 259.6,425.8 260.0,425.6 260.3,425.5 260.7,425.3 261.0,424.3 261.4,423.8 261.7,423.7 262.1,423.8 262.5,424.6 262.8,425.2 263.2,424.8 263.6,424.5 263.9,424.1 264.3,423.5 264.7,423.6 265.1,423.7 265.5,423.4 265.9,423.1 266.2,422.8 266.6,422.2 267.0,422.2 267.4,422.7 267.8,422.7 268.2,422.3 268.6,422.3 269.0,422.4 269.4,422.6 269.8,422.8 270.2,422.8 270.6,422.6 271.0,422.2 271.4,422.3 271.8,422.6 272.2,422.6 272.6,422.9 273.0,423.0 273.3,423.1 273.7,423.5 274.1,423.4 274.5,423.3 274.8,423.6 275.2,424.4 275.6,424.8 276.0,424.1 276.3,424.1 276.7,424.7 277.1,425.0 277.5,424.5 277.9,424.4 278.2,425.0 278.6,425.1 279.0,424.9 279.4,424.8 279.8,424.8 280.2,425.3 280.6,425.9 281.0,425.9 281.4,425.6 281.8,425.6 282.2,425.5 282.6,425.5 283.0,425.6 283.4,425.4 283.7,425.0 284.1,424.9 284.5,424.9 284.8,424.6 285.2,424.5 285.5,424.6 285.9,424.3 286.2,424.0 286.5,424.0 286.9,423.5 287.2,423.0 287.5,423.2 287.8,422.8 288.2,422.0 288.5,422.4 288.8,422.8 289.1,422.1 289.4,421.1 289.8,421.1 290.1,421.1 290.4,420.5 290.7,420.2 291.1,420.5 291.4,420.7 291.7,420.3 292.0,419.9 292.4,419.3 292.7,419.0 293.1,419.3 293.4,418.9 293.8,418.3 294.1,418.5 294.5,418.5 294.9,418.1 295.3,418.1 295.7,418.0 296.1,417.7 296.4,417.5 296.8,417.5 297.2,417.5 297.6,417.5 298.0,417.7 298.4,417.8 298.7,418.3 299.1,418.5 299.4,418.8 299.7,419.6 300.0,420.5 300.3,420.3 300.6,420.0 300.9,420.5 301.1,420.9 301.4,420.8 301.7,421.0 301.9,421.6 302.2,422.4 302.4,422.5 302.7,422.3 302.9,422.4 303.2,422.9 303.4,423.8 303.7,424.2 303.9,424.0 304.2,424.1 304.5,424.4 304.7,424.7 305.0,425.3 305.2,425.5 305.5,425.3 305.8,425.7 306.1,426.7 306.3,427.1 306.6,427.1 306.9,427.1 307.2,427.3 307.6,427.7 307.9,427.7 308.2,427.7 308.6,428.3 308.9,428.6 309.3,428.7 309.7,429.1 310.1,429.2 310.4,428.9 310.8,429.0 311.2,429.3 311.6,429.5 312.0,429.4 312.4,428.7 312.8,428.8 313.2,429.4 313.6,429.5 314.0,429.5 314.4,429.6 314.8,429.5 315.2,429.2 315.6,429.1 316.0,429.1 316.4,429.3 316.8,429.3 317.2,428.7 317.6,428.7 318.0,428.7 318.4,428.6 318.8,428.4 319.2,428.1 319.6,428.2 320.0,428.7 320.4,428.7 320.8,428.1 321.2,428.1 321.6,429.0 322.0,429.0 322.4,428.3 322.8,427.8 323.2,427.8 323.6,428.0 324.0,428.1 324.4,428.5 324.8,428.5 325.2,428.1 325.6,427.8 326.0,427.7 326.3,428.0 326.7,428.3 327.1,428.4 327.5,428.5 327.9,428.8 328.3,429.2 328.6,429.5 329.0,429.2 329.4,429.0 329.7,429.6 330.1,430.1 330.4,430.0 330.8,430.0 331.1,430.2 331.5,430.6 331.8,430.7 332.2,430.6 332.5,431.1 332.8,431.7 333.2,432.2 333.5,432.3 333.9,432.3 334.2,432.1 334.6,432.2 335.0,432.5 335.3,432.4 335.7,432.3 336.1,432.2 336.4,432.5 336.8,432.7 337.2,432.8 337.6,433.2 338.0,433.2 338.4,433.1 338.8,433.2 339.2,433.4 339.6,433.7 340.0,433.5 340.4,433.2 340.8,432.9 341.2,433.0 341.6,433.1 342.0,433.0 342.4,433.0 342.8,433.4 343.2,433.6 343.6,433.2 344.0,432.8 344.4,433.1 344.8,433.8 345.1,433.7 345.5,433.2 345.9,432.7 346.3,432.3 346.7,432.2 347.1,432.3 347.5,432.1 347.9,431.7 348.3,431.7 348.7,432.0 349.1,431.7 349.5,431.2 349.8,431.6 350.2,432.0 350.6,431.7 351.0,431.3 351.4,431.2 351.8,431.3 352.2,431.0 352.6,430.8 353.0,431.5 353.4,432.0 353.8,431.3 354.2,430.9 354.6,431.3 355.0,431.7 355.4,431.6 355.8,430.9 356.2,430.5 356.6,431.0 357.0,431.4 357.4,431.6 357.8,431.5 358.2,430.9 358.6,430.8 359.0,431.3 359.4,431.7 359.8,431.6 360.2,431.2 360.6,431.2 361.0,431.8 361.4,432.4 361.8,432.6 362.2,432.3 362.6,432.0 363.0,431.5 363.4,431.3 363.8,431.4 364.2,431.5 364.6,431.5 365.0,431.6 365.4,431.8 365.8,432.0 366.2,432.2 366.6,432.2 367.0,432.4 367.4,432.8 367.8,432.7 368.2,432.5 368.6,432.5 369.0,432.6 369.3,432.6 369.7,432.6 370.1,433.1 370.5,433.6 370.9,433.3 371.3,432.6 371.7,432.2 372.1,432.6 372.5,433.1 372.9,433.3 373.3,433.1 373.7,433.2 374.1,433.6" fill="none" stroke="#0000ff" stroke-width="2.5" stroke-linejoin="round" clip-path="url(#cpB)"/>
<path d="M27.8,390.2 28.2,390.5 28.5,390.2 28.9,389.6 29.3,389.5 29.7,389.3 30.1,388.8 30.4,388.4 30.8,388.6 31.2,389.1 31.6,389.2 32.0,389.0 32.4,388.8 32.8,388.8 33.2,388.7 33.6,388.2 34.0,388.3 34.4,388.9 34.8,389.0 35.2,388.8 35.6,389.0 36.0,389.6 36.4,389.7 36.8,389.3 37.2,389.6 37.6,390.1 38.0,389.9 38.4,389.5 38.8,389.1 39.2,389.6 39.6,389.5 40.0,389.2 40.4,389.8 40.8,390.4 41.2,390.6 41.6,390.5 42.0,390.1 42.3,389.8 42.7,389.9 43.1,390.2 43.5,390.3 43.9,390.3 44.3,390.5 44.7,390.8 45.1,391.2 45.5,391.7 45.9,391.6 46.3,390.6 46.7,390.3 47.1,390.2 47.5,390.5 47.9,390.8 48.3,390.7 48.7,390.6 49.1,391.1 49.4,391.4 49.8,391.3 50.2,391.3 50.6,391.7 51.0,391.8 51.4,391.9 51.8,391.8 52.2,391.5 52.6,391.5 53.0,391.7 53.4,392.1 53.8,392.0 54.2,391.8 54.6,391.9 55.0,391.9 55.4,392.1 55.8,392.0 56.2,391.5 56.6,391.4 57.0,391.7 57.4,391.8 57.8,391.8 58.2,391.8 58.6,391.6 59.0,391.7 59.4,391.6 59.8,391.4 60.2,391.5 60.6,391.1 61.0,390.8 61.4,391.2 61.8,391.8 62.2,391.9 62.6,391.9 63.0,392.3 63.4,392.5 63.8,392.4 64.2,392.2 64.6,391.7 65.0,391.4 65.4,391.7 65.8,391.8 66.2,391.4 66.6,390.9 67.0,390.7 67.4,391.1 67.7,391.0 68.1,390.6 68.5,390.8 68.9,391.0 69.3,390.9 69.7,390.9 70.1,390.6 70.5,390.0 70.9,390.0 71.3,390.4 71.6,390.7 72.0,390.3 72.4,389.5 72.8,389.5 73.2,390.1 73.6,390.3 74.0,390.0 74.3,389.2 74.7,388.7 75.1,388.8 75.5,388.8 75.9,388.7 76.2,389.0 76.6,389.1 77.0,388.4 77.4,387.6 77.7,387.7 78.1,387.9 78.5,387.5 78.9,387.4 79.2,387.7 79.6,387.8 80.0,387.6 80.4,387.2 80.7,386.9 81.1,386.8 81.5,386.8 81.8,386.7 82.2,386.6 82.6,386.3 82.9,385.9 83.3,386.0 83.7,386.1 84.0,385.9 84.4,385.8 84.8,385.8 85.1,385.6 85.5,385.0 85.9,384.6 86.2,384.6 86.6,384.2 86.9,383.7 87.3,383.7 87.6,383.6 88.0,383.4 88.4,383.1 88.7,383.0 89.1,383.4 89.4,383.6 89.8,383.3 90.1,382.4 90.5,381.9 90.8,381.8 91.2,381.5 91.5,381.5 91.9,381.3 92.2,381.2 92.6,381.2 92.9,381.3 93.2,381.4 93.6,380.8 93.9,380.1 94.2,380.0 94.6,379.6 94.9,379.2 95.2,378.8 95.5,378.9 95.8,379.1 96.1,378.5 96.4,378.0 96.7,377.7 97.0,377.9 97.3,377.8 97.6,376.9 97.9,376.5 98.2,376.4 98.4,375.9 98.7,375.9 98.9,376.1 99.2,375.5 99.4,374.9 99.6,374.3 99.9,374.0 100.1,373.8 100.3,373.9 100.5,374.0 100.7,373.5 100.9,372.6 101.0,372.2 101.2,371.8 101.4,371.1 101.5,370.8 101.7,370.6 101.8,370.0 102.0,369.7 102.1,369.5 102.3,368.8 102.4,368.4 102.5,368.3 102.6,368.0 102.7,367.6 102.9,367.6 103.0,367.1 103.1,366.5 103.2,366.1 103.3,365.5 103.4,365.3 103.5,365.4 103.5,365.0 103.6,364.5 103.7,364.2 103.8,363.6 103.9,363.3 104.0,362.8 104.0,362.3 104.1,361.9 104.2,361.4 104.2,361.1 104.3,360.7 104.4,360.7 104.4,360.7 104.5,360.0 104.6,359.2 104.6,358.7 104.7,358.2 104.7,357.5 104.8,357.1 104.8,357.2 104.9,356.8 105.0,356.0 105.0,355.9 105.1,355.9 105.1,355.3 105.2,354.8 105.2,354.5 105.3,354.0 105.3,354.0 105.4,353.6 105.4,352.6 105.5,352.3 105.5,352.3 105.6,351.7 105.6,351.1 105.7,350.5 105.7,350.1 105.8,350.0 105.8,349.8 105.9,349.1 105.9,348.5 106.0,348.2 106.0,348.1 106.1,347.8 106.1,347.3 106.2,346.8 106.2,345.7 106.3,345.2 106.4,345.8 106.4,345.7 106.5,344.6 106.5,344.2 106.6,344.3 106.6,344.2 106.7,344.0 106.8,343.5 106.8,342.9 106.9,342.4 106.9,341.9 107.0,341.5 107.0,341.4 107.1,341.2 107.2,340.6 107.2,340.0 107.3,339.5 107.3,338.9 107.4,338.2 107.5,337.3 107.5,337.2 107.6,337.5 107.6,337.1 107.7,336.4 107.8,336.0 107.8,336.2 107.9,335.9 107.9,335.2 108.0,334.9 108.1,334.7 108.1,334.4 108.2,333.6 108.3,332.6 108.3,332.6 108.4,332.8 108.4,332.2 108.5,331.6 108.6,331.3 108.6,331.0 108.7,330.3 108.7,329.4 108.8,329.1 108.9,329.2 108.9,328.8 109.0,328.7 109.0,328.6 109.1,327.8 109.2,327.1 109.2,326.5 109.3,326.1 109.4,325.6 109.4,324.8 109.5,324.5 109.5,324.9 109.6,324.8 109.7,324.4 109.7,323.9 109.8,323.4 109.8,323.2 109.9,322.6 109.9,322.0 110.0,321.7 110.1,321.2 110.1,321.2 110.2,321.3 110.3,320.8 110.3,320.1 110.4,319.5 110.5,319.0 110.5,318.7 110.6,318.1 110.7,317.3 110.8,316.9 110.9,316.6 110.9,315.9 111.0,315.7 111.1,315.7 111.2,315.1 111.3,314.4 111.5,314.1 111.6,314.0 111.7,313.8 111.8,313.4 111.9,313.3 112.1,313.2 112.2,312.2 112.4,311.3 112.5,311.3 112.7,311.3 112.9,310.7 113.2,310.3 113.6,310.5 113.9,310.7 114.2,310.6 114.4,310.7 114.6,311.4 114.8,312.2 114.9,312.6 115.1,312.5 115.2,312.6 115.3,313.1 115.5,313.6 115.6,314.0 115.7,314.2 115.8,314.7 115.9,315.2 116.1,315.5 116.2,315.8 116.3,316.1 116.4,316.6 116.5,317.0 116.6,317.5 116.8,317.6 116.9,317.6 117.0,318.6 117.1,319.6 117.2,319.9 117.3,320.2 117.4,320.5 117.4,320.4 117.5,320.7 117.6,321.7 117.7,322.4 117.8,322.7 117.8,322.9 117.9,323.2 118.0,323.5 118.1,323.9 118.1,324.3 118.2,324.6 118.2,324.7 118.3,325.2 118.4,325.8 118.4,325.8 118.5,325.8 118.6,326.3 118.6,327.0 118.7,328.1 118.8,328.8 118.8,328.8 118.9,328.7 118.9,328.9 119.0,329.5 119.1,330.0 119.1,330.3 119.2,331.0 119.3,331.7 119.4,331.9 119.4,331.5 119.5,331.7 119.6,332.5 119.7,333.2 119.8,334.0 119.8,334.9 119.9,335.3 120.0,335.4 120.1,335.9 120.2,336.3 120.3,336.3 120.4,336.6 120.5,337.1 120.6,337.2 120.7,337.3 120.8,337.7 120.9,338.1 121.0,338.7 121.1,339.2 121.2,339.8 121.3,340.5 121.4,340.7 121.4,340.7 121.5,341.2 121.6,341.7 121.7,342.3 121.8,342.6 121.9,342.8 122.0,343.1 122.1,343.4 122.2,343.9 122.3,344.3 122.4,344.7 122.5,344.9 122.6,345.2 122.7,345.6 122.8,345.9 122.9,346.6 123.0,347.3 123.0,347.5 123.1,348.1 123.2,348.9 123.3,348.9 123.4,348.8 123.5,349.3 123.6,349.9 123.7,350.3 123.8,350.5 123.9,350.7 124.0,351.1 124.1,351.7 124.2,352.2 124.3,352.3 124.4,352.5 124.5,353.0 124.6,353.1 124.7,353.5 124.9,354.1 125.0,354.3 125.1,354.9 125.2,355.3 125.3,355.5 125.5,356.2 125.6,356.7 125.8,356.8 125.9,357.3 126.1,358.0 126.2,358.4 126.4,358.4 126.6,358.4 126.8,358.6 127.1,359.2 127.4,359.9 127.7,360.2 128.1,360.4 128.5,360.5 128.9,360.0 129.2,359.5 129.5,359.6 129.8,359.5 130.1,358.7 130.4,358.5 130.7,358.6 130.9,358.5 131.1,358.7 131.4,358.3 131.6,357.4 131.8,356.7 132.0,356.4 132.2,356.1 132.4,355.7 132.6,355.4 132.8,355.0 133.0,355.1 133.2,355.1 133.4,354.6 133.6,353.6 133.8,352.9 133.9,353.1 134.1,353.0 134.3,352.2 134.4,351.8 134.6,351.5 134.7,351.1 134.9,350.7 135.0,350.0 135.2,349.5 135.3,349.2 135.4,348.8 135.5,348.7 135.7,348.4 135.8,347.9 135.9,347.7 136.0,347.4 136.1,347.0 136.2,346.6 136.3,346.0 136.4,345.3 136.5,344.7 136.6,344.4 136.6,344.5 136.7,344.7 136.8,344.1 136.9,343.3 136.9,343.1 137.0,342.7 137.1,342.2 137.1,342.0 137.2,341.7 137.2,340.9 137.3,340.5 137.3,340.1 137.4,339.6 137.4,339.3 137.5,338.9 137.5,338.3 137.6,337.9 137.6,338.0 137.7,337.8 137.7,337.2 137.7,336.6 137.8,336.4 137.8,336.1 137.9,335.9 137.9,335.4 138.0,334.6 138.0,334.0 138.1,333.5 138.1,333.4 138.2,333.7 138.2,333.0 138.3,332.0 138.3,331.7 138.4,331.6 138.4,331.4 138.5,330.9 138.5,330.3 138.6,330.0 138.7,329.7 138.7,329.2 138.8,328.6 138.8,328.3 138.9,327.9 138.9,327.3 139.0,327.0 139.1,326.6 139.1,326.3 139.2,325.9 139.2,325.2 139.3,324.7 139.3,324.5 139.4,324.3 139.5,323.9 139.5,323.6 139.6,323.1 139.6,322.4 139.7,322.2 139.7,321.8 139.8,321.4 139.8,321.3 139.9,321.2 140.0,321.0 140.0,320.7 140.1,319.9 140.1,319.0 140.2,318.7 140.2,318.8 140.3,318.7 140.3,317.9 140.3,317.2 140.4,316.9 140.4,316.6 140.5,316.0 140.5,315.0 140.6,314.3 140.6,314.5 140.6,314.7 140.7,313.9 140.7,313.0 140.8,312.6 140.8,312.6 140.9,312.8 140.9,312.2 140.9,311.5 141.0,311.2 141.0,310.8 141.1,310.5 141.1,310.0 141.2,309.4 141.2,309.1 141.3,308.8 141.3,308.7 141.4,308.2 141.4,307.1 141.5,306.8 141.6,307.3 141.6,307.0 141.7,306.2 141.7,306.1 141.8,305.6 141.9,304.9 141.9,304.4 142.0,304.3 142.1,304.2 142.2,303.3 142.3,302.8 142.4,303.1 142.5,302.6 142.6,301.6 142.8,301.1 143.1,300.9 143.4,301.3 143.6,301.8 143.8,302.1 143.9,302.2 144.1,302.6 144.2,303.3 144.3,304.0 144.4,304.5 144.5,304.6 144.6,304.9 144.7,305.1 144.7,305.5 144.8,306.2 144.9,306.4 145.0,306.4 145.0,307.0 145.1,307.6 145.2,307.9 145.2,308.6 145.3,309.0 145.3,309.3 145.4,310.1 145.4,310.7 145.5,310.7 145.5,311.1 145.6,311.9 145.6,312.0 145.6,311.8 145.7,312.0 145.7,312.5 145.7,312.7 145.7,313.1 145.8,313.9 145.8,314.4 145.8,314.9 145.8,315.4 145.8,315.5 145.8,315.8 145.8,316.3 145.8,316.5 145.8,317.1 145.8,317.7 145.9,318.2 145.9,318.5 145.9,318.6 145.9,318.8 145.9,319.0 145.9,319.5 145.9,320.2 145.9,321.1 145.9,321.6 146.0,322.0 146.0,322.7 146.0,323.1 146.0,323.0 146.0,322.7 146.0,322.9 146.1,323.6 146.1,324.0 146.1,324.3 146.1,324.6 146.1,325.1 146.1,325.9 146.2,326.0 146.2,326.3 146.2,326.9 146.2,327.2 146.2,328.0 146.3,328.6 146.3,328.5 146.3,328.6 146.3,328.8 146.4,329.4 146.4,330.4 146.4,330.7 146.4,330.7 146.4,331.1 146.5,332.1 146.5,332.6 146.5,332.4 146.5,332.4 146.5,332.9 146.6,333.8 146.6,334.7 146.6,335.3 146.6,335.3 146.6,335.2 146.7,335.7 146.7,336.1 146.7,336.4 146.7,337.0 146.7,337.5 146.8,337.6 146.8,338.0 146.8,339.1 146.8,339.7 146.8,339.7 146.8,340.2 146.9,340.7 146.9,340.7 146.9,340.7 146.9,341.0 146.9,341.6 146.9,342.1 147.0,342.4 147.0,342.5 147.0,342.6 147.0,343.0 147.0,343.8 147.0,344.6 147.0,344.8 147.1,345.2 147.1,346.0 147.1,346.4 147.1,346.4 147.1,346.8 147.1,347.6 147.2,347.9 147.2,348.1 147.2,348.6 147.2,349.2 147.2,349.6 147.2,349.9 147.2,350.4 147.3,350.7 147.3,350.9 147.3,351.7 147.3,352.1 147.3,352.3 147.3,352.8 147.4,352.8 147.4,352.9 147.4,353.7 147.4,354.5 147.4,354.9 147.4,355.3 147.5,355.9 147.5,356.4 147.5,357.1 147.5,357.7 147.5,357.1 147.6,356.6 147.6,357.1 147.6,357.8 147.6,358.5 147.6,358.9 147.7,358.9 147.7,359.2 147.7,359.9 147.7,360.1 147.7,360.3 147.8,361.3 147.8,362.0 147.8,362.2 147.8,362.5 147.9,362.7 147.9,363.4 147.9,364.3 147.9,364.8 148.0,364.9 148.0,364.9 148.0,365.3 148.0,366.2 148.1,366.5 148.1,366.2 148.1,366.1 148.1,366.5 148.2,367.2 148.2,368.3 148.2,368.7 148.3,368.7 148.3,369.6 148.3,370.8 148.4,370.8 148.4,370.3 148.4,370.5 148.5,370.7 148.5,371.1 148.5,372.3 148.6,373.6 148.6,373.9 148.6,373.6 148.7,373.7 148.7,374.3 148.8,374.7 148.8,374.4 148.8,374.8 148.9,376.1 148.9,376.8 149.0,377.1 149.0,377.5 149.1,377.8 149.1,377.9 149.2,378.4 149.2,379.3 149.3,379.4 149.4,379.5 149.4,379.8 149.5,379.8 149.6,380.0 149.7,381.1 149.8,381.9 149.9,382.0 150.0,381.9 150.1,382.6 150.2,383.1 150.4,382.8 150.5,382.9 150.6,384.0 150.8,384.8 151.0,384.7 151.1,384.3 151.3,384.8 151.5,386.0 151.7,386.6 151.9,386.7 152.1,386.8 152.4,387.1 152.6,387.2 152.9,387.4 153.2,387.7 153.5,388.1 153.8,388.5 154.2,389.0 154.5,389.1 154.9,389.1 155.3,389.3 155.7,389.1 156.1,389.3 156.5,389.8 156.9,389.4 157.3,388.8 157.7,389.3 158.1,390.0 158.5,389.5 158.9,388.6 159.3,388.6 159.7,389.0 160.1,389.3 160.5,389.5 160.9,389.6 161.3,389.8 161.7,389.7 162.1,389.1 162.4,389.1 162.8,389.6 163.2,390.1 163.6,390.4 164.0,390.5 164.3,390.4 164.7,389.6 165.1,389.3 165.5,390.1 165.9,390.8 166.3,390.7 166.7,390.6 167.1,391.3 167.5,391.8 167.8,391.4 168.2,390.9 168.6,391.2 169.0,391.9 169.4,391.8 169.8,391.9 170.2,392.2 170.6,391.9 171.0,391.6 171.4,391.9 171.8,392.1 172.2,392.1 172.6,392.0 173.0,391.6 173.4,391.5 173.8,391.6 174.2,391.7 174.6,391.6 175.0,391.5 175.4,391.3 175.8,391.3 176.2,391.4 176.6,391.5 177.0,391.6 177.4,391.5 177.8,391.1 178.2,390.9 178.6,391.4 179.0,391.3 179.4,391.1 179.8,391.2 180.2,391.3 180.6,391.2 181.0,391.4 181.4,391.9 181.8,392.1 182.2,391.9 182.6,391.3 183.0,390.9 183.4,391.4 183.8,391.7 184.2,391.5 184.6,391.3 185.0,390.9 185.4,390.8 185.8,391.2 186.2,391.1 186.6,390.7 187.0,390.8 187.4,390.9 187.8,390.9 188.2,390.9 188.6,391.0 189.0,391.1 189.4,390.6 189.8,390.2 190.2,390.4 190.6,390.3 191.0,390.1 191.4,390.1 191.8,390.1 192.2,390.6 192.6,390.8 193.0,390.5 193.4,390.5 193.8,390.6 194.2,390.2 194.6,389.9 195.0,390.1 195.4,390.4 195.8,390.4 196.2,390.4 196.6,390.5 197.0,390.5 197.4,390.6 197.8,390.7 198.2,390.6 198.6,390.5 199.0,390.4 199.4,390.2 199.8,390.2 200.2,390.5 200.6,390.6 201.0,390.4 201.4,390.5 201.8,390.2 202.2,389.9 202.6,390.3 203.0,390.6 203.4,390.0 203.8,389.6 204.2,389.9 204.6,390.4 205.0,390.8 205.4,390.6 205.8,390.2 206.2,390.2 206.6,390.2 206.9,390.1 207.3,390.0 207.7,390.1 208.1,390.4 208.5,390.6 208.9,390.3 209.3,390.2 209.7,390.1 210.1,390.3 210.5,390.6 210.9,390.4 211.3,390.5 211.7,390.5 212.1,390.9 212.5,391.1 212.9,390.2 213.3,390.2 213.7,391.0 214.1,391.0 214.5,390.7 214.9,390.6 215.3,390.6 215.7,391.1 216.1,391.4 216.5,391.2 216.9,391.2 217.3,391.8 217.7,391.9 218.1,391.3 218.5,391.1 218.9,391.0 219.3,390.9 219.7,391.0 220.1,390.8 220.5,390.4 220.9,390.4 221.3,390.9 221.7,391.6 222.1,391.8 222.5,391.5 222.9,391.5 223.3,391.9 223.7,391.9 224.1,391.7 224.5,391.9 224.9,392.2 225.3,391.8 225.7,391.3 226.1,391.2 226.5,391.6 226.9,392.1 227.3,392.4 227.7,392.2 228.1,392.2 228.5,392.6 228.9,392.4 229.3,392.0 229.7,392.3 230.1,392.2 230.5,391.9 230.9,391.8 231.3,391.8 231.7,391.5 232.1,391.3 232.5,391.8 232.9,392.0 233.3,391.8 233.7,392.3 234.1,392.8 234.5,392.5 234.9,392.3 235.3,392.4 235.7,392.0 236.1,391.8 236.5,391.8 236.9,392.0 237.3,392.3 237.7,392.2 238.1,391.8 238.5,391.8 238.9,391.9 239.3,391.8 239.7,391.7 240.1,391.5 240.5,391.5 240.9,391.5 241.3,391.5 241.7,391.6 242.1,391.5 242.5,391.2 242.9,391.2 243.3,391.2 243.7,391.4 244.1,391.4 244.5,391.2 244.9,391.2 245.2,391.7 245.6,391.7 246.0,391.4 246.4,391.4 246.8,391.2 247.2,390.9 247.6,391.2 248.0,391.7 248.4,391.5 248.8,391.0 249.2,390.6 249.6,390.9 250.0,391.2 250.3,390.9 250.7,390.7 251.1,390.7 251.5,390.6 251.9,390.5 252.3,390.1 252.7,389.7 253.1,389.8 253.5,390.2 253.8,389.9 254.2,389.5 254.6,389.5 255.0,389.1 255.4,388.7 255.8,388.6 256.2,388.6 256.6,388.6 256.9,388.6 257.3,388.4 257.7,388.1 258.1,388.0 258.5,388.0 258.9,388.0 259.3,388.3 259.7,388.2 260.0,387.7 260.4,387.4 260.8,387.3 261.2,387.2 261.6,387.2 262.0,387.2 262.4,386.9 262.8,386.7 263.2,387.0 263.5,387.4 263.9,387.1 264.3,386.8 264.7,387.0 265.1,387.1 265.5,386.8 265.9,386.1 266.3,386.4 266.7,387.3 267.1,386.8 267.5,386.2 267.9,386.4 268.3,386.3 268.7,386.0 269.1,386.0 269.5,386.2 269.9,386.3 270.3,386.1 270.7,385.8 271.1,385.3 271.5,385.3 271.9,385.8 272.3,385.7 272.7,386.0 273.1,386.5 273.5,386.4 273.9,386.3 274.3,386.4 274.7,386.5 275.1,386.4 275.5,386.5 275.9,386.8 276.2,386.5 276.6,386.2 277.0,386.5 277.4,386.8 277.8,386.8 278.2,387.2 278.6,387.8 279.0,387.8 279.4,387.4 279.8,387.1 280.2,386.8 280.6,387.0 281.0,387.5 281.4,387.6 281.8,387.5 282.2,387.4 282.6,387.2 283.0,387.3 283.4,387.6 283.8,387.8 284.2,387.9 284.6,388.0 285.0,387.5 285.3,386.8 285.7,386.7 286.1,386.8 286.5,386.9 286.9,387.1 287.3,387.1 287.7,386.6 288.0,386.6 288.4,386.6 288.8,386.2 289.1,386.0 289.5,386.1 289.9,386.2 290.2,386.1 290.6,385.8 291.0,385.4 291.3,384.8 291.7,384.4 292.1,384.1 292.4,383.7 292.8,384.2 293.2,384.5 293.5,384.2 293.9,384.0 294.3,384.0 294.7,383.9 295.0,384.1 295.4,384.4 295.8,384.0 296.2,383.7 296.6,383.6 297.0,383.4 297.4,383.4 297.8,383.5 298.2,383.4 298.6,383.1 299.0,383.3 299.4,383.7 299.7,383.7 300.1,383.7 300.4,384.0 300.8,384.6 301.1,385.2 301.5,385.5 301.8,385.3 302.2,385.1 302.5,385.5 302.8,386.1 303.2,386.1 303.5,385.7 303.8,385.8 304.2,386.1 304.5,386.8 304.8,387.3 305.2,387.5 305.5,387.8 305.9,387.7 306.2,387.7 306.6,388.1 307.0,388.5 307.3,388.4 307.7,388.2 308.1,388.3 308.5,388.7 308.9,388.6 309.2,388.4 309.6,388.5 310.0,388.6 310.4,389.1 310.8,389.6 311.2,389.9 311.6,390.0 312.0,389.8 312.4,389.3 312.8,389.6 313.2,390.2 313.6,390.1 314.0,389.0 314.4,388.7 314.8,389.2 315.2,389.1 315.6,388.9 316.0,389.0 316.4,388.6 316.8,388.3 317.2,388.7 317.6,389.1 318.0,389.3 318.4,389.3 318.8,388.9 319.2,388.6 319.6,388.2 320.0,387.9 320.3,388.3 320.7,388.8 321.1,389.1 321.5,389.1 321.9,388.3 322.3,387.8 322.7,388.3 323.1,388.4 323.5,387.7 323.9,387.4 324.3,388.0 324.7,388.1 325.1,387.8 325.5,387.7 325.9,387.6 326.3,387.4 326.7,387.6 327.1,388.0 327.5,388.1 327.9,387.7 328.3,387.8 328.7,388.6 329.1,388.6 329.4,388.4 329.8,388.6 330.2,388.8 330.6,388.8 331.0,389.1 331.3,389.6 331.7,389.7 332.1,389.5 332.4,389.5 332.8,390.2 333.2,390.6 333.6,390.2 333.9,390.2 334.3,390.5 334.7,390.8 335.1,391.1 335.5,391.2 335.8,391.2 336.2,391.2 336.6,391.1 337.0,390.9 337.4,390.8 337.8,391.0 338.2,391.2 338.6,391.5 339.0,391.8 339.4,391.9 339.8,392.0 340.2,391.7 340.6,391.1 341.0,391.4 341.4,391.6 341.8,391.3 342.2,391.2 342.6,391.6 343.0,392.1 343.4,391.9 343.8,391.6 344.2,391.7 344.6,391.9 345.0,392.1 345.4,391.9 345.8,391.4 346.2,391.2 346.6,391.1 347.0,391.0 347.4,390.9 347.8,390.9 348.2,390.6 348.6,390.5 349.0,390.6 349.4,390.6 349.8,390.2 350.1,390.1 350.5,390.6 350.9,390.7 351.3,390.6 351.7,390.7 352.1,390.6 352.5,390.7 352.9,391.0 353.3,390.9 353.7,391.1 354.1,391.2 354.5,390.7 354.9,390.4 355.3,390.5 355.7,390.8 356.1,390.6 356.5,390.5 356.9,391.1 357.3,391.1 357.7,390.8 358.1,391.1 358.5,391.5 358.9,392.0 359.3,391.8 359.7,391.0 360.1,390.7 360.5,390.7 360.9,391.0 361.3,391.2 361.7,391.4 362.1,391.1 362.5,390.6 362.9,391.0 363.3,391.8 363.7,391.9 364.1,391.5 364.5,391.3 364.9,391.4 365.3,391.2 365.7,391.1 366.1,391.4 366.5,391.5 366.9,391.1 367.3,390.9 367.7,391.5 368.1,391.7 368.5,391.4 368.9,391.8 369.3,391.9 369.7,391.2 370.1,391.2 370.5,391.7 370.9,391.9 371.3,391.7 371.7,391.4 372.1,391.3 372.5,391.4 372.9,391.3 373.3,391.1 373.7,390.6 374.1,390.5" fill="none" stroke="#00ffff" stroke-width="2.5" stroke-linejoin="round" clip-path="url(#cpB)"/>
<rect x="27" y="1.5" width="347" height="259.0" fill="none" stroke="#000" stroke-width="2"/>
<rect x="27" y="267" width="347" height="258" fill="none" stroke="#000" stroke-width="2"/>
<path d="M44.35,259.8V256.8 M44.35,524.3V521.3 M73.27,259.8V254.3 M73.27,524.3V518.8 M102.19,259.8V256.8 M102.19,524.3V521.3 M131.11,259.8V254.3 M131.11,524.3V518.8 M160.03,259.8V256.8 M160.03,524.3V521.3 M188.95,259.8V254.3 M188.95,524.3V518.8 M217.87,259.8V256.8 M217.87,524.3V521.3 M246.79,259.8V254.3 M246.79,524.3V518.8 M275.71,259.8V256.8 M275.71,524.3V521.3 M304.63,259.8V254.3 M304.63,524.3V518.8 M333.55,259.8V256.8 M333.55,524.3V521.3 M362.47,259.8V254.3 M362.47,524.3V518.8" stroke="#000" stroke-width="1.6" fill="none"/>
<rect x="493.3" y="80.50" width="28.50" height="179.50" fill="#ff0080" stroke="#222" stroke-width="1"/>
<rect x="562.9" y="63.30" width="28.10" height="196.70" fill="#ff0080" stroke="#222" stroke-width="1"/>
<rect x="632.2" y="63.40" width="27.90" height="196.60" fill="#ff0080" stroke="#222" stroke-width="1"/>
<rect x="701.9" y="75.20" width="27.80" height="184.80" fill="#ff0080" stroke="#222" stroke-width="1"/>
<path d="M507.55,76.5V84.2 M504.55,76.5H510.55 M504.55,84.2H510.55" stroke="#000" stroke-width="1.3" fill="none"/>
<path d="M576.95,59.7V67.3 M573.95,59.7H579.95 M573.95,67.3H579.95" stroke="#000" stroke-width="1.3" fill="none"/>
<path d="M646.15,58V69.1 M643.15,58H649.15 M643.15,69.1H649.15" stroke="#000" stroke-width="1.3" fill="none"/>
<path d="M715.80,71.4V78.9 M712.80,71.4H718.80 M712.80,78.9H718.80" stroke="#000" stroke-width="1.3" fill="none"/>
<rect x="438" y="2.0" width="347" height="258.5" fill="none" stroke="#000" stroke-width="2"/>
<path d="M438,250.80H442.8 M438,232.38H441 M438,213.97H442.8 M438,195.55H441 M438,177.13H442.8 M438,158.72H441 M438,140.30H442.8 M438,121.88H441 M438,103.47H442.8 M438,85.05H441 M438,66.63H442.8 M438,48.22H441 M438,29.80H442.8 M438,11.38H441 M472.5,259.8V254.8 M559.6,259.8V257.3 M646.2,259.8V254.8 M732.9,259.8V257.3" stroke="#000" stroke-width="1.5" fill="none"/>
<rect x="492.8" y="318.00" width="27.90" height="205.70" fill="#800080" stroke="#222" stroke-width="1"/>
<rect x="562.3" y="338.40" width="28.20" height="185.30" fill="#800080" stroke="#222" stroke-width="1"/>
<rect x="631.3" y="335.40" width="28.20" height="188.30" fill="#800080" stroke="#222" stroke-width="1"/>
<rect x="701.1" y="343.00" width="28.20" height="180.70" fill="#800080" stroke="#222" stroke-width="1"/>
<path d="M506.75,312.5V323.5 M503.75,312.5H509.75 M503.75,323.5H509.75" stroke="#000" stroke-width="1.3" fill="none"/>
<path d="M576.40,331V346.2 M573.40,331H579.40 M573.40,346.2H579.40" stroke="#000" stroke-width="1.3" fill="none"/>
<path d="M645.40,329.9V340.8 M642.40,329.9H648.40 M642.40,340.8H648.40" stroke="#000" stroke-width="1.3" fill="none"/>
<path d="M715.20,339V346.6 M712.20,339H718.20 M712.20,346.6H718.20" stroke="#000" stroke-width="1.3" fill="none"/>
<rect x="438" y="266.5" width="346.5" height="257.5" fill="none" stroke="#000" stroke-width="2"/>
<path d="M438.3,523.60H443 M438.3,504.80H435 M438.3,486.00H443 M438.3,467.20H435 M438.3,448.40H443 M438.3,429.60H435 M438.3,410.80H443 M438.3,392.00H435 M438.3,373.20H443 M438.3,354.40H435 M438.3,335.60H443 M438.3,316.80H435 M438.3,298.00H443 M438.3,279.20H435 M471.8,523.3V518.5 M541.6,523.3V520.8 M610.8,523.3V518.5 M680.1,523.3V520.8 M749.7,523.3V518.5" stroke="#000" stroke-width="1.5" fill="none"/>
<text transform="translate(37.56,37.36) scale(0.9542,1)" font-size="25.88" font-weight="bold" stroke="#000" stroke-width="0.3" >A</text>
<text transform="translate(33.68,295.70) scale(0.9437,1)" font-size="24.49" font-weight="bold" stroke="#000" stroke-width="0.3" >B</text>
<text transform="translate(450.88,32.65) scale(0.9103,1)" font-size="25.35" font-weight="bold" stroke="#000" stroke-width="0.3" >C</text>
<text transform="translate(451.70,298.90) scale(1.0325,1)" font-size="24.93" font-weight="bold" stroke="#000" stroke-width="0.3" >D</text>
<text transform="translate(334.46,232.01) scale(0.9767,1)" font-size="19.01" font-weight="bold" stroke="#000" stroke-width="0.3" >GO</text>
<text transform="translate(340.62,507.39) scale(0.9376,1)" font-size="20.73" font-weight="bold" stroke="#000" stroke-width="0.3" >a</text>
<text transform="translate(339.09,466.80) scale(1.0627,1)" font-size="21.64" font-weight="bold" stroke="#000" stroke-width="0.3" >b</text>
<text transform="translate(340.59,424.19) scale(0.9834,1)" font-size="20.55" font-weight="bold" stroke="#000" stroke-width="0.3" >c</text>
<text transform="translate(338.92,381.80) scale(1.0295,1)" font-size="21.37" font-weight="bold" stroke="#000" stroke-width="0.3" >d</text>
<text transform="translate(54.61,540.85) scale(1.0957,1)" font-size="15.21" font-weight="bold" stroke="#000" stroke-width="0.3">1000</text>
<text transform="translate(112.45,540.85) scale(1.0957,1)" font-size="15.21" font-weight="bold" stroke="#000" stroke-width="0.3">1500</text>
<text transform="translate(170.54,540.85) scale(1.0957,1)" font-size="15.21" font-weight="bold" stroke="#000" stroke-width="0.3">2000</text>
<text transform="translate(228.38,540.85) scale(1.0957,1)" font-size="15.21" font-weight="bold" stroke="#000" stroke-width="0.3">2500</text>
<text transform="translate(286.30,540.85) scale(1.0957,1)" font-size="15.21" font-weight="bold" stroke="#000" stroke-width="0.3">3000</text>
<text transform="translate(344.14,540.85) scale(1.0957,1)" font-size="15.21" font-weight="bold" stroke="#000" stroke-width="0.3">3500</text>
<text transform="translate(120.22,562.98) scale(1.0634,1)" font-size="17.23" font-weight="bold" stroke="#000" stroke-width="0.3" >Raman shift [cm</text>
<text transform="translate(263.12,554.70) scale(1.1036,1)" font-size="17.68" font-weight="bold" stroke="#000" stroke-width="0.3" >-1</text>
<text transform="translate(281.53,563.35) scale(1.0340,1)" font-size="15.96" font-weight="normal" stroke="#000" stroke-width="0.5" >]</text>
<text transform="translate(15.80,201.75) rotate(-90) scale(1.0736,1)" font-size="17.97" font-weight="bold" stroke="#000" stroke-width="0.3">Intensity [a.u.]</text>
<text transform="translate(14.00,468.04) rotate(-90) scale(1.1135,1)" font-size="17.25" font-weight="bold" stroke="#000" stroke-width="0.3">Intensity [a.u.]</text>
<text transform="translate(397.10,164.27) rotate(-90) scale(1.1115,1)" font-size="16.38" font-weight="bold" stroke="#000" stroke-width="0.3">D/G Ratio</text>
<text transform="translate(389.70,447.66) rotate(-90) scale(1.0770,1)" font-size="17.39" font-weight="bold" stroke="#000" stroke-width="0.3">2D/G Ratio</text>
<text transform="translate(409.33,255.30) scale(1.0000,1)" font-size="16.57" font-weight="normal" stroke="#000" stroke-width="0.55">0.0</text>
<text transform="translate(409.49,218.47) scale(1.0000,1)" font-size="16.57" font-weight="normal" stroke="#000" stroke-width="0.55">0.2</text>
<text transform="translate(409.16,181.63) scale(1.0000,1)" font-size="16.57" font-weight="normal" stroke="#000" stroke-width="0.55">0.4</text>
<text transform="translate(409.33,144.80) scale(1.0000,1)" font-size="16.57" font-weight="normal" stroke="#000" stroke-width="0.55">0.6</text>
<text transform="translate(409.33,107.97) scale(1.0000,1)" font-size="16.57" font-weight="normal" stroke="#000" stroke-width="0.55">0.8</text>
<text transform="translate(409.33,71.13) scale(1.0000,1)" font-size="16.57" font-weight="normal" stroke="#000" stroke-width="0.55">1.0</text>
<text transform="translate(409.49,34.30) scale(1.0000,1)" font-size="16.57" font-weight="normal" stroke="#000" stroke-width="0.55">1.2</text>
<text transform="translate(400.37,528.90) scale(1.0000,1)" font-size="16.14" font-weight="normal" stroke="#000" stroke-width="0.55">0.00</text>
<text transform="translate(400.53,491.30) scale(1.0000,1)" font-size="16.14" font-weight="normal" stroke="#000" stroke-width="0.55">0.02</text>
<text transform="translate(400.21,453.70) scale(1.0000,1)" font-size="16.14" font-weight="normal" stroke="#000" stroke-width="0.55">0.04</text>
<text transform="translate(400.53,416.10) scale(1.0000,1)" font-size="16.14" font-weight="normal" stroke="#000" stroke-width="0.55">0.06</text>
<text transform="translate(400.53,378.50) scale(1.0000,1)" font-size="16.14" font-weight="normal" stroke="#000" stroke-width="0.55">0.08</text>
<text transform="translate(400.37,340.90) scale(1.0000,1)" font-size="16.14" font-weight="normal" stroke="#000" stroke-width="0.55">0.10</text>
<text transform="translate(400.53,303.30) scale(1.0000,1)" font-size="16.14" font-weight="normal" stroke="#000" stroke-width="0.55">0.12</text>
<text transform="translate(501.21,540.63) scale(0.9701,1)" font-size="16.73" font-weight="bold" stroke="#000" stroke-width="0.3" >a</text>
<text transform="translate(571.11,541.60) scale(1.0746,1)" font-size="17.12" font-weight="bold" stroke="#000" stroke-width="0.3" >b</text>
<text transform="translate(638.40,541.52) scale(0.9952,1)" font-size="17.64" font-weight="bold" stroke="#000" stroke-width="0.3" >c</text>
<text transform="translate(710.18,540.60) scale(1.0266,1)" font-size="17.53" font-weight="bold" stroke="#000" stroke-width="0.3" >d</text>
<rect x="707.5" y="26.5" width="26.5" height="10" fill="#ff0080" stroke="#222" stroke-width="1"/>
<text transform="translate(737.46,35.36) scale(1.0608,1)" font-size="14.05" font-weight="bold" stroke="#000" stroke-width="0.3" >D/G</text>
<rect x="701.5" y="286.2" width="26.5" height="10.2" fill="#800080" stroke="#222" stroke-width="1"/>
<text transform="translate(731.26,295.36) scale(1.0560,1)" font-size="14.05" font-weight="normal" stroke="#000" stroke-width="0.5" >2D/G</text>
</svg></body></html>
